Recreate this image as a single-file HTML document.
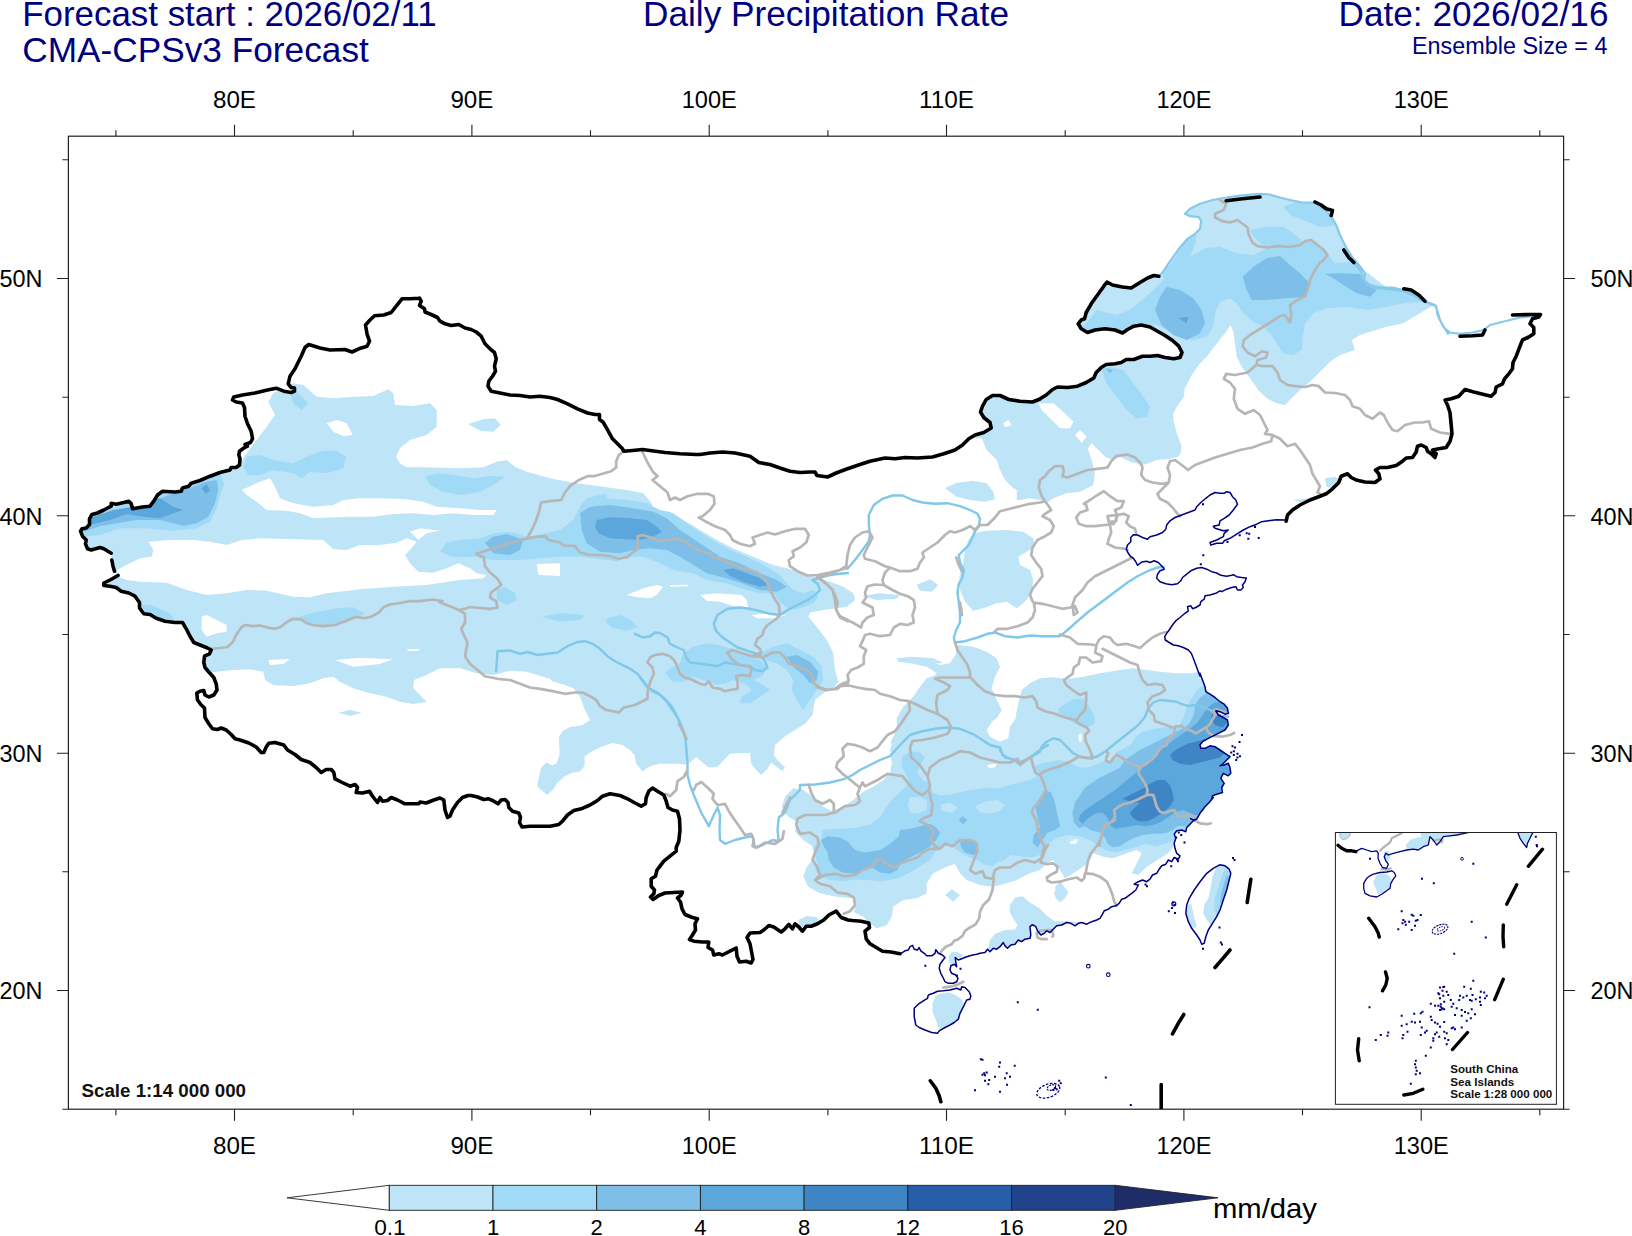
<!DOCTYPE html>
<html><head><meta charset="utf-8"><title>Daily Precipitation Rate</title>
<style>html,body{margin:0;padding:0;background:#fff}svg{display:block}text{font-family:"Liberation Sans",sans-serif}</style></head>
<body>
<svg width="1632" height="1236" viewBox="0 0 1632 1236">
<rect width="1632" height="1236" fill="#fff"/>
<text x="22.2" y="25.8" font-size="35" fill="#00007f" textLength="414.5" lengthAdjust="spacingAndGlyphs">Forecast start : 2026/02/11</text>
<text x="22.3" y="62.3" font-size="35" fill="#00007f" textLength="346.5" lengthAdjust="spacingAndGlyphs">CMA-CPSv3 Forecast</text>
<text x="643" y="25.8" font-size="35" fill="#00007f" textLength="366" lengthAdjust="spacingAndGlyphs">Daily Precipitation Rate</text>
<text x="1338.5" y="25.8" font-size="35" fill="#00007f" textLength="270" lengthAdjust="spacingAndGlyphs">Date: 2026/02/16</text>
<text x="1412" y="53.5" font-size="23" fill="#00007f" textLength="195.5" lengthAdjust="spacingAndGlyphs">Ensemble Size = 4</text>
<defs><clipPath id="mc"><rect x="68.4" y="136.2" width="1495.1999999999998" height="973.0"/></clipPath></defs>
<g clip-path="url(#mc)">
<defs><clipPath id="cn"><path d="M100,547.5 103.8,548.8 111.2,553.2 111.8,560 113,566.2 114.5,571.2 118,575.5 110,580 103.8,583 103.8,585.5 110,586.2 116.2,587.5 121.2,591.2 128.8,593 135,596.2 139.5,602.5 139.5,608 143.8,613.8 150,614.5 156.2,618.2 165,621.2 175,622.5 182.5,622.5 186.2,628.8 190,636.2 193.8,642.5 200,645 207.5,648 211.2,650 209.5,653.8 204.5,656.2 203.8,662.5 205,667.5 208.8,672 213.8,677.5 216.2,683.8 217,690 213.8,695 208.8,697 205,695 203.8,690.5 200,691.2 196.8,693 197.5,700 201.2,705 204.5,708 205,717.5 208.8,723.8 212.5,728.8 217.5,729.5 221.2,728 226.2,730 231.2,734.5 235,738.8 240,740 248.8,743 256.2,747 261.2,752.5 263.8,752.5 266.2,747 268.8,743.2 275,742.5 283.8,745 287.5,750 295,754.5 301.2,759.5 310,762.5 316.2,767.5 321.2,772.5 326.2,769.5 331.2,769.5 333.8,772.5 335,778.8 341.2,782 350,786.2 355,784.5 357.5,787.5 356.2,792.5 362.5,793 369.5,791.2 372.5,796.2 377.5,802.5 380,797.5 382.5,801.2 387.5,800.5 391.2,797.5 397.5,800 405,803.8 412.5,803.8 418.8,803.8 420,802 426.2,803 433.8,800 440,798 443.8,800 445,810 447.5,817.5 450,816.2 452.5,810 457.5,802.5 462.5,797.5 468,795.5 468,795.5 471.2,795.5 477.5,797 483.8,799.5 488.8,798.8 493.8,801.2 498,803.8 501.2,800 505,799.5 508,802.5 508.8,807.5 512.5,811.2 518.8,813 520.5,817.5 519.5,822.5 522,827 530,826.2 540,826.2 550,826.2 558.8,824.5 562.5,821.2 567.5,815 573.8,810.5 581.2,808.8 590,805 597.5,800.5 602.5,796.2 610,793.8 620,795.5 627.5,798.8 635,803 641.2,806.2 645.5,803.8 646.2,797.5 648.8,791.2 652.5,788 657.5,791.2 663.8,795 666.2,801.2 668,807.5 672.5,810 677.5,811.2 679.5,818.8 680,830 678.8,841.2 676.2,847.5 676.2,851.2 670,856.2 663.8,861.2 660,866.2 657,870 655.5,876.2 651.2,878.8 651.2,886.2 654.5,890 653.8,893.8 650.5,897 653,899.5 658.8,895.5 665,893 673.8,892.5 682.5,892 681.2,895 677.5,898 680.5,902 682,908.8 685,914.5 692.5,917.5 697.5,918.8 695,923.8 695.5,930 692.5,935 689.5,939.5 693.8,941.2 702.5,942 708.8,942 708,947.5 712.5,950 713.8,955 718.8,953.8 722.5,955 730,951.2 736.2,948 737,956.2 739.5,962 746.2,961.2 751.2,963 753,959.5 751.2,950 750,943.8 747,937.5 750,933 760,932.5 763.8,930 768.8,925.5 773.8,927 781.2,932 785,928.8 788.8,924.5 792.5,928.8 795,923.8 798.8,927 802.5,931.2 806.2,926.2 811.2,926.2 817.5,923.8 823.8,920 828.8,915 836.2,911.2 841.2,917.5 848,920 848,920 852.5,920.5 861.2,921.2 868.8,923 869.5,927.5 865,931.2 866.2,938.8 870,943.8 876.2,947.5 882.5,951.2 891.2,952 900,953.8 900.8,953.7 905,950.8 908.3,950 910,946.7 912.5,945.3 914.2,949.2 917.5,950 919.2,947.5 920.8,950.8 924.2,953.3 926.7,955.8 931.7,955.8 935,953.3 935.8,949.7 938.3,953.3 942.5,955 945,957.5 942.5,960.8 940,964.2 939.2,968.3 940.8,973.3 943,977.5 945,981.7 948.3,983.3 953.3,983.3 956.7,981.7 958,978.3 955.8,975 951.7,973.3 950,970 950.8,965.8 954.2,964.2 956.7,966.7 955.8,962.5 955.3,957.5 958.3,960 961.7,958.7 966.7,956.7 971.7,955.3 976.7,954.2 980,953.3 985,952.5 987.5,949.2 990,951.7 993.3,948.3 996.7,949.2 1000,946.7 1003.3,942.5 1005,945.8 1007.5,948.3 1010.8,945 1015,944.2 1018.3,940 1021.7,941.7 1025,939.2 1030,938.3 1030.8,935 1030,926.7 1032.5,924.7 1035.8,926.7 1037.5,930.8 1040.8,935 1044.2,933.3 1046.7,930.8 1050,932.5 1054.2,928.3 1056.7,925.8 1061.7,925 1066.7,922.5 1070.8,923.3 1075,925.8 1078.3,923.3 1081.7,922.5 1086.7,924.2 1091.7,921.7 1096.7,920 1100,918.3 1102.5,914.2 1104.2,910.8 1108.3,909.2 1111.7,906.7 1115.8,905.8 1119.2,903.3 1121.7,899.2 1125,898.3 1128.3,895.8 1131.7,893.3 1135.8,890 1138.3,885 1134.2,884.2 1138.3,881.7 1142.5,880 1146.7,881.7 1150,879.2 1152.5,875 1156.7,873.3 1159.2,869.2 1161.7,865.8 1165.8,864.2 1168.3,860 1171.7,861.7 1174.2,857.5 1178.3,859.2 1180,855.8 1176.7,853.3 1175,848.3 1174.2,843.3 1175.8,838.3 1174.2,834.2 1176.7,830.8 1181.7,830 1185.8,831.7 1186.7,827.5 1190,824.2 1193.3,820.8 1195,820 1190,818.3 1193.3,820 1196.7,819.2 1200,813.3 1205,806.7 1209.2,802.5 1213.3,797.5 1211.7,799.2 1212.5,795.8 1216.7,794.2 1222.5,792.5 1221.7,787.5 1224.2,783.3 1220.8,778.3 1223.3,773.3 1228.3,775.8 1230.8,773.3 1230,767.5 1228.3,763.3 1224.2,765 1220,765.8 1222.5,764.2 1226.7,760 1230,756.7 1225,753.3 1220,750 1215,746.7 1210,745.8 1205,748.3 1200.8,748.3 1200,745 1202.5,741.7 1208.3,738.3 1213.3,735.8 1218.3,733.3 1225,730 1228.3,725 1227.5,720 1223.3,717.5 1218.3,715 1215.8,710.8 1220,711.7 1225,714.2 1228.3,713.3 1227.5,708.3 1224.2,704.2 1220,701.7 1215,697.5 1210,694.2 1205.8,691.7 1205,686.7 1202.5,680 1200,673.3 1200,676 1198.3,671.7 1195.8,665 1193.3,658.3 1191.3,653.3 1188.3,650 1183.3,647.5 1178.3,645.8 1173.3,645 1169.2,642.5 1165.3,640 1164.7,636.7 1166.7,633.3 1169.2,630 1172.5,625 1175.8,620.8 1180,617.5 1185,613.3 1188.3,610.8 1187.5,606.7 1190.8,605.8 1192.5,608.7 1195.8,607.5 1200,605 1200.8,601.7 1204.2,599.2 1205,595.8 1210,595 1215.8,593.3 1220,590.8 1221.7,591.7 1226.7,589.2 1231.7,587.5 1235.8,586.7 1237.5,590 1240.8,590 1243.3,587.5 1242.5,585 1245,581.7 1246.3,578 1241.7,577.5 1236.7,576.7 1233.3,574.7 1231.7,575.3 1226.7,576.3 1220.8,575.3 1216.7,573 1211.7,571.7 1206.7,569.2 1201.7,567.5 1196.7,568.3 1190.8,570.8 1186.7,574.2 1182.5,577.5 1180.8,580.8 1177.5,583.7 1171.7,584.7 1165.8,583.7 1160,581.7 1156.7,578.3 1157.5,574.2 1160,570.8 1164.2,569.2 1162.5,566.7 1158.3,562.5 1154.2,560.8 1150,562.5 1146.7,561.3 1141.7,562 1137.5,565.3 1135.8,561.7 1133.3,558.3 1130.8,556.7 1128.3,553.3 1126.3,549.2 1127.5,545 1130.8,541.7 1130.8,537.5 1133.3,534.7 1137.5,535 1142.5,537.5 1147.5,539.2 1150,536.7 1156.7,535 1162.5,532.5 1165.8,529.2 1166.7,525 1170,520.8 1175,517.5 1181.7,515 1188.3,512.5 1195,510 1196.7,506.7 1200.8,502.5 1205.8,498.3 1210,495 1215,492.5 1220,493.3 1224.2,493.3 1226.7,491.7 1230,492.5 1232.5,496.7 1235.8,500 1237.5,504.2 1233.3,510 1229.2,515 1224.2,518.3 1220,520.8 1219.2,525 1213.3,526.3 1215,528.3 1218.3,529.2 1223.3,530.8 1228.3,530 1224.2,533.3 1223.3,536.7 1216.7,540 1210,542.5 1210.8,545 1216.7,543.3 1222.5,543.3 1224.2,540.8 1230,538.3 1236.7,534.2 1243.3,530 1250,526.7 1256.7,524.2 1261.7,521.7 1268.3,520.8 1276.7,519.7 1285,520 1286.2,521.2 1287.5,515 1292.5,510 1300,505 1310,500 1320,496.2 1326.2,493.8 1332.5,488.8 1338.8,482.5 1341.2,476.2 1347.5,473.8 1351.2,477.5 1356.2,480 1365,482 1375,482.5 1380,478.8 1378.8,473.8 1375.5,470 1380,467.5 1387.5,467.5 1396.2,465.5 1402.5,461.2 1406.2,458 1412.5,457.5 1416.2,452 1417.5,446.2 1421.2,445 1426.2,447.5 1427.5,451.2 1431.2,453.8 1435,457.5 1436.2,453.8 1432.5,450 1438.8,448.8 1446.2,447.5 1450,441.2 1452,433.8 1451.2,425 1450,412.5 1447.5,405 1445,400 1451.2,398.8 1458.8,396.2 1465,389.5 1473.8,392 1483.8,394.5 1491.2,396.2 1495,392.5 1496.2,387 1502.5,383.8 1504.5,378.8 1508.8,373.8 1512.5,368.8 1513,362.5 1516.2,356.2 1520,346.2 1522.5,340 1528.8,337 1533.8,333.8 1533.8,327.5 1530,323.8 1532.5,318.8 1538.8,317 1540.5,314.5 1537.5,315.5 1520,317.5 1505,321.2 1490,325 1483.8,330 1472.5,332.5 1460,333.8 1450,332.5 1443.8,327.5 1440,320 1437.5,311.2 1435,305 1425,301.2 1412.5,295 1403.8,291.2 1395,290 1385,288.8 1372.5,287.5 1366.2,283.8 1363.8,277.5 1360,270 1353.8,262.5 1448,333.8 1441.2,322.5 1437.5,315 1436.2,306.2 1425,302 1415,295 1403.8,290 1392.5,287.5 1380,287.5 1370,285 1363.8,280 1365,273.8 1360,266.2 1352.5,257.5 1346.2,247.5 1340,235 1336.2,225 1331.2,216.2 1325,210 1315,202.5 1302.5,202.5 1290,200 1280,197.5 1270,194.5 1260,193.8 1240,195.5 1226.2,197.5 1212.5,200 1200,203.8 1190,208.8 1185,213.8 1190,216.2 1198.8,217 1201.2,221.2 1200,228.8 1195,233.8 1187.5,238.8 1180,247.5 1173.8,256.2 1167.5,265 1162.5,272.5 1158.8,276.2 1158.8,276.2 1153.8,275.5 1147.5,278 1140,282.5 1131.2,288 1122.5,287 1112.5,285 1107,282 1103.8,286.2 1097.5,295 1091.2,303.8 1086.2,312.5 1084.5,318.8 1081.2,320 1078.2,323.8 1081.2,328.8 1087.5,332.5 1095,330 1105,328.8 1115,330 1122.5,333 1127.5,329.5 1133.8,326.2 1141.2,325 1150,327 1157.5,331.2 1165,335.5 1172.5,340.5 1178.8,346.2 1182,352.5 1180,357.5 1173.8,358.8 1165,357.5 1157.5,355.5 1150,356.2 1142.5,356.2 1133.8,359.5 1126.2,359.5 1121.2,362.5 1115,363.8 1106.2,364.5 1101.2,367.5 1096.2,372.5 1093.8,378 1086.2,382.5 1077.5,386.2 1067.5,387.5 1057.5,387 1052.5,389.5 1046.2,395 1040,398.8 1040,399 1032.5,402 1020,401.2 1008.8,399.5 1000,395.5 992.5,395.5 986.2,399.5 982.5,406.2 980.5,412 983.8,417.5 990,422.5 991.2,428 983.8,432.5 975,435 968.8,438.8 962.5,445 955,450 943.8,453.8 932.5,457 917.5,458 905,457.5 895,458.8 885,458 870,461.2 860,464.5 847.5,468.8 836.2,473 827.5,477 817,475.5 815,472 810,472 800,472.5 790,471.2 780,468 770,464.5 758.8,462.5 750,456.2 735,453 722.5,452 710,453 700,454.5 696.2,454.5 680,453.8 665,452.5 650,450.5 642.5,449.5 632.5,450.5 623.8,451.2 622.5,448.8 618.8,445 612.5,438.8 607,428.8 603,422 599.5,419.5 599.5,414.5 595,414.5 587.5,413 577.5,408.8 567.5,403.8 557.5,399.5 550,397.5 540,396.2 530,397 520,395.5 510,395 500,393 491.2,391.2 488,386.2 488.8,381.2 492.5,376.2 495.5,371.2 494.5,366.2 496.2,358.8 494.5,352.5 490,348.8 485,343.8 481.2,336.2 476.2,332 471.2,329.5 465,328 458.8,324.5 451.2,325.5 445,323.8 440,321.2 437.5,317.5 431.2,314.5 425,312 424.5,308.8 419.5,305.5 421.2,301.2 419.5,298 418.8,298.2 410,298.8 402,298.8 396.2,306.2 391.2,312.5 383.8,315 374.5,315.8 370,320 365.5,325 367,333.8 369.5,341.2 367,346.2 358.8,348.8 352,352 345,349.5 330,350 320,348 308.8,344.5 305,347.5 301.2,356.2 295,368.8 290,376.2 288.2,383.8 291.2,387.5 294.5,388 294.5,391.2 291.2,392.5 283.8,391.2 276.2,388.2 267.5,390 255,393 242.5,395 233.8,397 232.5,400 236.2,402 242.5,403 244.5,407.5 245,416.2 247.5,423.8 251.2,431.2 252.5,438.8 250.5,442.5 245,444.5 247.5,446.2 243.8,448 239.5,451.2 238.8,455 240,458.8 239.5,465 236.2,467.5 231.2,467.5 230,470 220,472.5 210,476.2 200,480.5 191.2,483.2 188.8,486.2 182.5,488 181.2,491.2 175,492 162.5,491.2 157.5,495 153.8,501.2 150,506.2 142.5,507 132.5,508.8 131.2,503.8 128.8,501.2 123.8,502.5 116.2,504.2 111.2,503.2 111.2,506.2 103.8,510 97.5,513 92,514.5 89.5,518.8 89.5,524.5 86.2,528 82,528.8 80.5,531.2 82.5,536.2 86.2,540 85.5,543.8 87.5,548.8 91.2,550 100,547.5Z M928.3,995 933.3,993.3 937.5,991.3 943.3,990.8 950,990 956.7,988.3 960.8,990 961.7,986.7 965,987.5 969.2,991.7 970.8,995.8 970,999.2 966.7,1000 965,1003.3 962.5,1008.3 960,1013.3 958.3,1019.2 954.2,1022.5 950,1025 945,1027.5 939.2,1030.8 937.5,1033.3 931.7,1032.5 925,1030 919.2,1027.5 915.8,1025 914.2,1016.7 914.2,1008.3 918.3,1004.2 923.3,1000.8 927.5,998.3 928.3,995Z M1220,864.7 1225,865.8 1229.2,869.2 1230.8,873.3 1229.2,880 1226.7,890 1223.3,900 1220,910 1216.7,916.7 1212.5,923.3 1208.3,930 1205.8,936.7 1204.2,943.3 1201.7,944.2 1200,940 1196.7,935 1191.7,928.3 1188.3,921.7 1185.8,913.3 1186.7,905 1189.2,898.3 1194.2,890 1200,881.7 1206.7,873.3 1213.3,868.3 1220,864.7Z"/></clipPath></defs>
<g clip-path="url(#cn)">
<path d="M468.3,424 483.3,419.3 495,418.3 500.7,425 493.3,431.7 480,430.7Z M338.3,712.7 350,710 361.7,712.7 350,716Z M293.3,383.3 303.3,385 316.7,396.7 333.3,398.3 353.3,396.7 373.3,396 388.3,389.3 393.3,393.3 395,405 413.3,406 430,403.3 436.7,410 436.7,426.7 426.7,435 410,440 400,448.3 396,456.7 400,463.3 406.7,467.3 426.7,467.3 460,468.3 483.3,467.3 496.7,461.7 506.7,460 515,466.7 526.7,471.7 550,478.3 573.3,482.7 606.7,487.3 606.7,740 603.3,745 593.3,750 584.3,755.7 584.3,765 578.3,771.7 568.3,773.3 540,773.3 546.7,768.3 556.7,763.3 560,753.3 560,740 566.7,731.7 580,726.7 590,720 585,710 580,696.7 573.3,688.3 560,681.7 543.3,676.7 526.7,671.7 510,670.7 493.3,675 476.7,673.3 460,668.3 440,668.3 426.7,675 414,680 413.3,688.3 420,695 426.7,701.7 413.3,704 400,701.7 386.7,696.7 370,693.3 353.3,688.3 340,681.7 333.3,676.7 323.3,678.3 310,683.3 293.3,686 273.3,685 265,680 263.3,671.7 250,669.3 233.3,670 216.7,671.7 206.7,673.3 193.3,660 160,626.7 93.3,593.3 60,560 60,510 143.3,493.3 226.7,470 240,463.3 246.7,453.3 256.7,440 266.7,426.7 275,415 268.3,401.7 273.3,393.3Z M556.7,483.3 580,486 606.7,487.3 626.7,490 643.3,493.3 651.7,503.3 653.3,510 670,511.7 683.3,520 700,530 716.7,540 736.7,550 756.7,558.3 773.3,565 793.3,570 813.3,576.7 830,581.7 843.3,586.7 853.3,593.3 855,600 846.7,606.7 836.7,608.3 823.3,610 810,612.7 808.3,616.7 816.7,626.7 826.7,640 833.3,653.3 835,670 838.3,681.7 833.3,688.3 823.3,693.3 815,700 812.5,715 805,723.8 795,730 785,736.2 775,745 773.8,755 777.5,760 785,767.5 782.5,771.2 777.5,767.5 771.2,762.5 767.5,768.8 761.2,775 756.2,770 751.2,763.8 750,753 740,753 730,753.8 723.8,760 717.5,767 708.8,767.5 702.5,762.5 696.2,757 690,762.5 686.2,764.5 675,763.8 660,763.8 650,766.2 642.5,771.2 636.2,763.8 634.5,755 630,750 622.5,745 612.5,743 602.5,746.2 592.5,751.2 584.5,756.2 584.5,766.2 580,771.2 572.5,772.5 565,776.2 557.5,782.5 553.8,788.8 547.5,795 542.5,791.2 537,786.2 538.8,777.5 541.2,767.5 546.2,762.5 551.2,765 557.5,767.5 559.5,760 559.5,750 558.8,737.5 562.5,731.2 570,727 585,725 595,723.8 592.5,717.5 587.5,711.2 585,702.5 581.2,693.8 575,688.8 565,685 552.5,681.2 545,675Z M1433.3,305 1420,313.3 1403.3,323.3 1386.7,326.7 1370,331.7 1360,335 1351.7,340 1355,350 1340,355 1330,361.7 1320,371.7 1310,381.7 1300,390 1291.7,398.3 1285,405 1276.7,403.3 1266.7,398.3 1258.3,390 1250,378.3 1241.7,366.7 1236.7,356.7 1235,343.3 1233.3,331.7 1230.7,325 1225,333.3 1216.7,343.3 1206.7,356.7 1193.3,370 1185,383.3 1184,396.7 1176.7,406.7 1171.7,416.7 1173.3,430 1176.7,440 1181.7,446.7 1178.3,456.7 1166.7,459.3 1153.3,460 1143.3,465 1133.3,460 1120,456.7 1113.3,460 1105,456.7 1091.7,443.3 1086.7,450 1091.7,460 1095,473.3 1093.3,485 1080,491.7 1066.7,493.3 1053.3,498.3 1046.7,503.3 1040,500 1030,498.3 1020,500 1016.7,500 1016.7,370 1053.3,270 1153.3,170 1353.3,170 1453.3,270Z M1325,478.3 1335,476.7 1340,480 1331.7,488.3 1326.7,486.7Z M1293.3,500 1310,498.3 1303.3,503.3Z M966.7,438.3 966.7,396.7 1066.7,326.7 1225,326.7 1225,330 1218.3,341.7 1210,351.7 1200,363.3 1191.7,375 1186.7,385 1180,396.7 1173.3,408.3 1173.3,420 1176.7,433.3 1181.7,446.7 1180,455 1166.7,456.7 1156.7,460 1143.3,465 1130,461.7 1116.7,455 1103.3,448.3 1093.3,441.7 1086.7,445 1090,455 1093.3,466.7 1091.7,480 1083.3,488.3 1066.7,493.3 1053.3,496.7 1040,498.3 1026.7,495 1013.3,488.3 1005,480 1000,470 996.7,460 986.7,450 981.7,438.3Z M945,488.3 956.7,482.7 973.3,480.7 986.7,483.3 993.3,491.7 995,499.3 985,501.7 970,500 956.7,496.7Z M973.3,533.3 986.7,530.7 1006.7,530 1023.3,531.7 1033.3,538.3 1035,546.7 1026.7,551.7 1018.3,556.7 1020,565 1030,570 1033.3,580 1031.7,593.3 1023.3,603.3 1016.7,608.3 1006.7,601.7 996.7,603.3 983.3,608.3 973.3,610.7 965,601.7 960,590 959.3,576.7 963.3,563.3 965,550 968.3,540Z M916.7,585 930,579.3 938.3,585 931.7,591.7 920,590.7Z M861.7,596 880,593.3 900,595 896.7,598.7 876.7,600Z M895,658.3 913.3,656.7 933.3,658.3 943.3,663.3 926.7,663.3 906.7,662.7Z M956.7,645 973.3,646.7 986.7,651.7 996.7,658.3 1000,666.7 995,676.7 991.7,688.3 996.7,700 1001.7,710 996.7,718.3 986.7,725 980,733.3 976.7,743.3 890,743.3 896.7,730 896.7,718.3 903.3,706.7 913.3,696.7 920,686.7 926.7,678.3 936.7,675 946.7,666.7 955,658.3Z M1013.3,743.3 1015,723.3 1016.7,710 1021.7,693.3 1030,683.3 1040,678.3 1053.3,677.3 1066.7,679.3 1083.3,676.7 1100,673.3 1120,670 1133.3,668.3 1146.7,670 1160,671.7 1176.7,673.3 1193.3,673.3 1198.3,671.7 1233.3,671.7 1233.3,743.3Z M793.3,788.3 803.3,790 813.3,796.7 823.3,806.7 833.3,811.7 843.3,806.7 853.3,800 863.3,791.7 873.3,786.7 883.3,780 890,773.3 891.7,763.3 890,750 893.3,740 898.3,735 896.7,723.3 900,711.7 910,701.7 916.7,693.3 926.7,683.3 936.7,673.3 926.7,666.7 910,663.3 898.3,661.7 896.7,658.3 910,656.7 926.7,660 940,665 950,663.3 956.7,653.3 963.3,646.7 973.3,648.3 983.3,651.7 993.3,656.7 998.3,668.3 993.3,680 986.7,690 993.3,700 1000,711.7 993.3,720 986.7,730 990,736.7 1000,741.7 1008.3,738.3 1010,726.7 1016.7,716.7 1018.3,703.3 1021.7,690 1030,683.3 1043.3,679.3 1060,678.3 1076.7,679.3 1093.3,676.7 1110,673.3 1126.7,670.7 1143.3,670 1160,671.7 1176.7,673.3 1196.7,673.3 1260,673.3 1260,853.3 1173.3,846.7 1168.3,853.3 1160,858.3 1146.7,866.7 1138.3,875 1131.7,873.3 1136.7,863.3 1141.7,853.3 1136.7,850 1126.7,853.3 1113.3,858.3 1103.3,856.7 1093.3,853.3 1090,860 1083.3,866.7 1073.3,873.3 1065,878.3 1060,870 1053.3,860 1046.7,863.3 1040,870 1030,873.3 1016.7,880 1006.7,883.3 993.3,886.7 980,885 966.7,880 960,873.3 955,864 946.7,866.7 933.3,873.3 926.7,883.3 926.7,893.3 916.7,898.3 903.3,900 893.3,906.7 891.7,916.7 886.7,925 876.7,928.3 870,923.3 863.3,916.7 853.3,911.7 856.7,903.3 853.3,898.3 836.7,896.7 820,893.3 808.3,886.7 803.3,876.7 806.7,866.7 815,856.7 813.3,846.7 803.3,840 795,831.7 796.7,821.7 788.3,816.7 781.7,806.7 785,796.7Z M798.3,920 806.7,916 816.7,917.3 821.7,923.3 810,927.3 800,926.7Z M945,895 951.7,889.3 960,895 953.3,901.7Z M1055,886.7 1060,881.7 1068.3,891.7 1061.7,900 1056.7,896.7Z M1010,905 1015,897.5 1022.5,896.2 1030,902.5 1040,908.8 1047.5,916.2 1055,921.2 1067.5,921.2 1080,923 1075,927.5 1055,930 1042.5,937.5 1030,945 1017.5,950 1005,952.5 992.5,955 987.5,950 990,940 995,933.8 1005,930 1015,929.5 1017.5,925 1012.5,917.5 1009.5,911.2Z M1220,863.3 1230,866.7 1231.7,873.3 1226.7,890 1222.5,903.3 1216.7,916.7 1210.8,925 1206.7,920 1203.3,913.3 1204.2,905 1208.3,898.3 1210.8,886.7 1212.5,876.7 1215,870Z M1185.8,906.7 1190.8,903.3 1192.5,910 1194.2,918.3 1196.7,925 1195,928.3 1190.8,926.7 1187.5,918.3 1185,911.7Z M1054.2,893.3 1056.7,886.7 1060,884.2 1063.3,888.3 1067.5,893.3 1065,898.3 1060,902.5 1055.8,898.3Z M935.8,995.8 941.7,993.3 950,992.5 956.7,995.8 962.5,1000 963.3,1003.3 960.8,1010 958.3,1018.3 953.3,1022.5 946.7,1025.8 939.2,1029.2 935.8,1020 932.5,1011.7 932.5,1003.3Z M949.2,955 952.5,951.7 958.3,952.5 963.3,955 960.8,958.3 955.8,957.5 955,962.5 950.8,965 948.7,960.8Z" fill="#bde4f7"/>
<path d="M326.7,423.3 336.7,420 346.7,423.3 352.7,435 343.3,436 333.3,431.7Z M241.7,490 260,481.7 270,478.3 275,486.7 280,498.3 293.3,503.3 313.3,506.7 333.3,505 343.3,500 360,498.3 380,498.3 406.7,499.3 423.3,501.7 436.7,506.7 460,508.3 480,510 496.7,510 493.3,515 473.3,515 453.3,513.3 433.3,515 413.3,513.3 393.3,514 373.3,516.7 353.3,516.7 333.3,517.3 313.3,518.3 300,513.3 286.7,510.7 266.7,510 256.7,501.7 246.7,495Z M148.3,541.7 170,540 193.3,540 210,541.7 226.7,545 241.7,540 260,538.3 293.3,539.3 323.3,540 333.3,549.3 346.7,550 360,545 380,545 396.7,542.7 406.7,538.3 416.7,541.7 410,550 405,555 410,563.3 418.3,571.7 433.3,572.7 446.7,568.3 458.3,563.3 470,568.3 476.7,573.3 486.7,575 483.3,578.3 460,580 426.7,585 393.3,586.7 360,589.3 326.7,593.3 310,597.3 293.3,596.7 266.7,590.7 246.7,590 226.7,593.3 206.7,595 186.7,590 166.7,582.7 140,581.7 126.7,580 118.3,576.7 116.7,570 130,563.3 140,558.3 151.7,556.7 153.3,550Z M410,531.7 420,528.3 440,530.7 426.7,533.3 418.3,540 413.3,535Z M201.7,616.7 206.7,615 226.7,625 226.7,631.7 216.7,633.3 206.7,636.7 201.7,630Z M268.3,660 290,659 283.3,664 270,665Z M335,660 360,657.7 393.3,659.3 380,664 353.3,666.7Z M406.7,649.3 420,648.7 418.3,651 408.3,651Z M536.7,564 560,563.3 560,576 538.3,575Z M626.7,595 643.3,588.3 656.7,585 663.3,586.7 656.7,595 650,598.3 636.7,597.3Z M670,585 688.3,584.7 688.3,586.3 670,586.7Z M700,595 716.7,593.3 741.7,595 746.7,600 748.3,607.3 733.3,606 720,601.7 706.7,600.7Z M751.7,615 766.7,613.3 786.7,615 773.3,618.3 756.7,618.3Z M1038.3,403.3 1053.3,403.3 1063.3,411.7 1073.3,421.7 1070,428.3 1060,428.3 1050,418.3 1041.7,410Z M1075,435 1080,430 1086.7,436.7 1081.7,442.7Z M1003.3,423.3 1008.3,420 1011.7,425 1005,427.3Z M1066.7,840 1078.3,839.3 1076.7,843.3 1068.3,844Z M988.3,765 996.7,764 995,767.3 989.3,768Z M1078.3,735 1081.7,733.3 1081.7,741.7 1079.3,741.7Z" fill="#ffffff"/>
<path d="M80,520 126.7,503.3 160,493.3 200,476.7 220,473.3 224,484 220,495 216.7,508.3 210,521.7 196.7,528.3 173.3,530.7 146.7,528.3 120,528.3 100,535 80,536.7Z M246.7,456.7 260,455 273.3,460 293.3,463.3 306.7,456.7 323.3,450.7 336.7,450.7 346,456.7 343.3,468.3 326.7,473.3 310,471.7 301.7,478.3 293.3,473.3 273.3,470 260,475 248.3,475 243.3,466.7Z M290,393.3 296.7,391.7 308.3,403.3 301.7,410 293.3,403.3Z M425,476.7 436.7,473.3 453.3,475 473.3,478.3 490,476 505,476.7 493.3,485 480,491.7 460,495 443.3,491.7 430,485Z M293.3,618.3 313.3,612.7 336.7,608.3 353.3,607.3 365,613.3 353.3,620 336.7,625 320,626.7 306.7,623.3Z M140,605 150,605 170,613.3 175,620 160,618.3 145,611.7Z M440,551.7 446.7,542.7 460,540 480,538.3 493.3,533.3 510,531.7 526.7,536.7 546.7,533.3 560,530 573.3,520 580,506.7 586.7,498.3 606.7,493.3 606.7,560 580,556.7 560,556.7 540,558.3 520,560 493.3,560 473.3,556.7 453.3,557.3Z M496.7,590 505,586.7 515,593.3 516.7,600 506.7,605 496.7,600Z M541.7,616.7 560,613.3 583.3,615 580,620 560,621.7Z M578.7,520 578.7,510 582.3,502.3 590,498.7 606.7,498.3 626.7,500 646.7,503.3 660,510 673.3,513.3 686.7,523.3 706.7,536.7 726.7,548.3 746.7,556.7 766.7,566.7 780,575 786.7,583.3 793.3,590 803.3,593.3 813.3,590 818.3,596.7 813.3,603.3 800,608.3 790,610 780,601.7 773.3,593.3 760,593.3 746.7,590 726.7,583.3 706.7,580 693.3,573.3 673.3,570 660,563.3 643.3,556.7 626.7,556.7 616.7,561.7 603.3,558.3 593.3,555 580,546.7Z M606.7,618.3 620,615 630,620 638.3,626.7 626.7,630.7 613.3,628.3 606.7,623.3Z M560,614 573.3,615 585,617.3 570,620.7 560,620Z M683.3,653.3 693.3,646.7 706.7,643.3 720,645 733.3,650 746.7,655 760,660 766.7,666.7 763.3,675 753.3,680 763.3,685 770,690 760,696.7 750,703.3 740,703.3 741.7,696.7 751.7,690 746.7,685 733.3,680 726.7,683.3 716.7,685 703.3,680 693.3,676.7 683.3,681.7 673.3,681.7 665,673.3 670,668.3 680,663.3Z M760,653.3 773.3,646.7 786.7,643.3 800,650 813.3,656.7 821.7,666.7 823.3,680 816.7,690 810,700 803.3,710 796.7,700 791.7,690 793.3,680 786.7,670 776.7,663.3 766.7,660Z M1163.3,270 1176.7,260 1193.3,255 1205,248.3 1220,246.7 1236.7,253.3 1253.3,255 1266.7,248.3 1253.3,236.7 1250,230 1266.7,226.7 1283.3,226.7 1293.3,233.3 1303.3,241.7 1313.3,241.7 1326.7,253.3 1335,263.3 1350,261.7 1356.7,266.7 1366.7,283.3 1403.3,290 1425,301.7 1403.3,303.3 1386.7,306.7 1366.7,310 1346.7,306.7 1326.7,308.3 1313.3,313.3 1305,323.3 1302.7,336.7 1301.7,350 1293.3,355 1283.3,353.3 1276.7,343.3 1270,333.3 1263.3,326.7 1253.3,321.7 1243.3,313.3 1236.7,303.3 1230,298.3 1220,301.7 1215,313.3 1213.3,326.7 1206.7,336.7 1193.3,340 1180,336.7 1166.7,330 1156.7,325 1136.7,323.3 1120,330 1103.3,336.7 1080,330 1091.7,316.7 1096.7,310 1116.7,315 1130,310 1140,301.7 1153.3,290 1163.3,280Z M1283.3,206.7 1296.7,201.7 1313.3,196.7 1340,213.3 1340,225 1320,226.7 1303.3,220 1290,215Z M1171.7,263.3 1180,250 1190,233.3 1196.7,233.3 1195,245 1190,256.7 1180,263.3Z M1101.7,370 1110,366.7 1123.3,370 1133.3,383.3 1143.3,396.7 1150,406.7 1146.7,416.7 1136.7,418.3 1126.7,410 1116.7,396.7 1106.7,383.3Z M1063.3,706.7 1076.7,700 1086.7,703.3 1093.3,713.3 1095,723.3 1086.7,728.3 1073.3,723.3 1063.3,715Z M812.5,847.5 821.2,840 822.5,830 837.5,828.8 855,828 870,824.5 880,817.5 886.2,807.5 892.5,798.8 900,792.5 906.2,786.2 908.8,780 905,772.5 901.2,765 902.5,756.2 910,751.2 920,752.5 925,757.5 920,765 917.5,772.5 922.5,780 930,783.8 932.5,792.5 940,795.5 950,794.5 960,792.5 970,790 980,788.8 990,787.5 997.5,788.8 1003.2,786.8 1016.8,783.2 1030,780 1040,774.5 1033.2,766.8 1041.8,763.2 1050,762 1057.5,760 1067.5,761.8 1073.2,764.2 1080,767.5 1088.2,767.5 1096.8,764.2 1103.2,761.8 1110,760.8 1121.8,756.8 1128.2,750.8 1137.5,743.2 1150,733.2 1155,730 1190,730 1190,835 1175,840 1165,843.8 1155,846.2 1145,843.8 1135,847.5 1125,850 1115,852.5 1105,850 1097.5,845 1090,840 1080,836.2 1067.5,835 1057.5,837.5 1050,842.5 1042.5,848.8 1040,855 1030,857.5 1020,856.2 1010,855 1005,860 997.5,862.5 992.5,866.2 985,865 977.5,860 970,857.5 962.5,853.8 955,848.8 950,843.8 942.5,846.2 935,852.5 930,860 920,866.2 910,872.5 900,877.5 890,880 880,881.2 867.5,880 855,879.5 842.5,881.2 830,880 820,876.2 815,870 817.5,862.5 815,855Z M1260,685 1260,815 1185,815 1135,790 1115,753 1125,748 1132.5,743 1135,737 1142.5,732 1152.5,729.2 1162.5,727.5 1172.5,727.5 1178.8,725.5 1183.8,717.5 1186.2,707.5 1191.2,698.8 1196.2,691.2 1203.8,685Z M1057.5,710 1065,703.8 1075,698.8 1083.8,698.8 1086.2,705 1092.5,712.5 1095,720 1087.5,725 1080,722.5 1077.5,715 1067.5,715 1060,713.8Z M1225,868.3 1229.2,871.7 1230,880 1225.8,893.3 1221.7,906.7 1216.7,915 1214.2,910 1215,898.3 1218.3,886.7 1221.7,876.7Z" fill="#a1daf6"/>
<path d="M940,805 950,802.5 957.5,807.5 952.5,812.5 942.5,811.2Z M975,806.2 985,801.2 997.5,800 1005,805 1000,811.2 990,813.8 980,812.5Z M907.5,805 910,797.5 920,796.2 927.5,801.2 926.2,810 917.5,813.8 910,812.5Z M1052.5,847.5 1060,841.2 1070,840 1080,841.2 1087.5,843.8 1080,847.5 1067.5,850 1057.5,851.2Z" fill="#bde4f7"/>
<path d="M1070,841.2 1077.5,840.5 1076.2,843.8 1070.5,844Z M987.5,765 996.2,763.8 995.5,767 988,767.5Z" fill="#ffffff"/>
<path d="M80,533.3 91.7,520 110,511.7 133.3,508.3 156.7,500 173.3,493.3 193.3,486.7 206.7,481.7 216.7,480 218.3,490 215,503.3 208.3,516.7 196.7,523.3 183.3,525.7 160,520 136.7,520 116.7,523.3 100,526Z M485,542.7 493.3,536.7 506.7,534 523.3,540 520,550 510,555 493.3,553.3Z M580,513.3 590,506.7 610,505 633.3,508.3 653.3,511.7 666.7,518.3 680,530 700,543.3 720,556.7 740,563.3 760,573.3 776.7,580 786.7,586.7 776.7,591.7 760,590 746.7,585 726.7,578.3 706.7,573.3 693.3,565 680,556.7 666.7,550 650,548.3 633.3,550 620,553.3 600,551.7 586.7,543.3 581.7,530Z M786.7,656.7 796.7,655 810,661.7 818.3,671.7 816.7,680 810,683.3 803.3,675 793.3,666.7Z M1155,310 1160,296.7 1166.7,286.7 1180,290 1193.3,298.3 1201.7,310 1205,323.3 1200,333.3 1186.7,340 1173.3,335 1161.7,325Z M1242.7,276.7 1253.3,266.7 1266.7,258.3 1280,256 1290,265 1300,273.3 1308.3,281.7 1310,286.7 1305,296.7 1286.7,298.3 1266.7,300 1251.7,300 1246.7,290Z M1325,274 1340,273.3 1360,274 1365,283.3 1376.7,290 1370,296.7 1356.7,293.3 1343.3,285 1333.3,278.3Z M1105,368.3 1113.3,370 1110,373.3Z M821.2,840 827.5,836.2 840,837.5 847.5,841.2 855,850 865,852.5 880,850 890,843.8 898.8,836.2 900,830 910,828.8 920,826.2 930,823.8 936.2,827.5 940,832.5 936.2,840 930,846.2 920,852.5 910,857.5 900,863.8 897.5,870 890,873.8 880,872.5 872.5,867.5 865,870 855,873.8 842.5,872.5 833.8,867.5 828.8,860 827.5,852.5 823.8,846.2Z M960,842.5 965,838.8 972.5,840 977.5,846.2 978.8,852.5 972.5,855 965,852.5 961.2,847.5Z M958.8,820 962.5,816.2 967,820 963,824.5Z M1035,805 1040,797.5 1045,790 1051.2,792.5 1055,802.5 1057.5,815 1060,826.2 1055,830 1047.5,832.5 1042.5,840 1037.5,847.5 1032.5,842.5 1033.8,835 1040,827.5 1037.5,817.5Z M1235,692.5 1235,826.2 1177.5,826.2 1172.5,830 1167.5,832.5 1160,833.8 1152.5,833.8 1142.5,835 1135,837.5 1127.5,841.2 1120,846.2 1112.5,847.5 1107.5,843.8 1105,837.5 1100,832.5 1090,830 1085,826.2 1078.8,828 1073.8,822.5 1072.5,812.5 1075,802.5 1080,795 1085,787.5 1092.5,782.5 1100,777.5 1110,772.5 1120,767.5 1125,760 1132.5,755 1140,750 1150,745 1160,740 1170,735 1177.5,731.2 1185,727.5 1190,722.5 1193.8,715 1195,705 1200,697.5 1207.5,692.5Z M1226.7,875 1230,878.3 1227.5,890 1223.3,900 1220,903.3 1220.8,895 1224.2,883.3Z" fill="#7dbfe9"/>
<path d="M80,526.7 93.3,516.7 113.3,510 133.3,506.7 153.3,500 160,498.3 173.3,506.7 183.3,510 173.3,513.3 160,518.3 143.3,516.7 126.7,514 110,520 96.7,523.3Z M201.7,488.3 206.7,484 210,490 206,494Z M596.7,520 610,517.3 630,518.3 646.7,520 656.7,526.7 661.7,531.7 653.3,536.7 640,540 626.7,539.3 610,538.3 598.3,533.3 595,526.7Z M723.3,570 733.3,568.3 746.7,573.3 760,578.3 770,585 760,586.7 743.3,581.7 730,576Z M1178.3,318.3 1188.3,316.7 1186.7,323.3Z M1235,702.5 1235,812.5 1195,815 1190,812.5 1182.5,810 1175,812.5 1167.5,817.5 1160,822.5 1152.5,825 1145,826.2 1137.5,825 1130,826.2 1122.5,827.5 1115,828.8 1110,825 1107.5,817.5 1102.5,812.5 1095,813.8 1087.5,818.8 1082.5,823.8 1078.8,820 1080,815 1085,810 1092.5,805 1100,800 1107.5,795 1115,790 1122.5,783.8 1130,777.5 1137.5,771.2 1145,765 1152.5,757.5 1160,751.2 1167.5,745 1175,738.8 1182.5,733.8 1190,728.8 1197.5,722.5 1202.5,715 1207.5,707.5 1215,702.5Z" fill="#5ba6da"/>
<path d="M1170,755 1177.5,748.8 1187.5,743.8 1197.5,741.2 1206.2,738.8 1212.5,742.5 1220,747.5 1225,752.5 1220,757.5 1210,760 1200,762.5 1190,765 1180,763.8 1172.5,760Z M1122.5,798.8 1132.5,793.8 1142.5,788.8 1150,783.8 1157.5,780 1165,780 1170,785 1172.5,792.5 1173.8,800 1170,806.2 1162.5,812.5 1155,817.5 1147.5,821.2 1138.8,821.2 1132.5,817.5 1130,812.5 1135,807.5 1140,802.5 1132.5,802.5Z M1212.5,712.5 1220,710 1226.2,715 1227.5,722.5 1222.5,727.5 1215,725 1211.2,718.8Z" fill="#3f84c4"/>
</g>
<path d="M496.2,671.2 497.5,651.2 510,650.5 520,653.8 527.5,652 537.5,655 547.5,653.8 557.5,652.5 567.5,646.2 577.5,642 585,641.2 592.5,643.8 600,648.8 607.5,656.2 615,661.2 622.5,665 630,668.8 637.5,673.8 642.5,680 646.2,685 652.5,691.2 660,695 667.5,702.5 672.5,710 677.5,717.5 681.2,725 683.8,732.5 686.2,739 M635,633.8 642.5,637.5 650,636.2 655,632.5 660,633 667.5,637.5 670,643.8 677.5,647.5 683.8,650 686.2,657.5 690,662.5 700,663.8 710,665 717.5,666.2 725,662.5 732.5,663.8 740,665 750,666.2 755,670 762.5,671.2 767.5,667.5 765,661.2 760,655 752.5,652.5 745,650 737.5,647.5 730,642.5 722.5,637.5 716.2,631.2 713.8,623.8 717.5,615 727.5,608.8 740,607.5 750,608.8 760,611.2 770,613.8 780,615 787.5,610 797.5,605 807.5,600 815,595 820,590 817.5,583.8 812.5,580 820,577.5 830,575 840,573.8 848,573 M640,677.5 647.5,687.5 657.5,692.5 665,698.8 672.5,707.5 677.5,717.5 681.2,726.2 685,735 686.2,747.5 687.5,762.5 687.5,775 690,785 693.8,795 701.2,812.5 708.8,826.2 713.8,815 717.5,807.5 720,815 719.5,830 720,840 725,843.8 735,840 745,837.5 752.5,836.2 755,847.5 762.5,845 772.5,840 778.8,841.2 777.5,830 778.8,817.5 785,812.5 790,800 800,790 800,785 815,784.5 830,782.5 845,778.8 852.5,775 860,770 870,765 880,760 890,756.2 900,745 910,735 922.5,731.2 935,728.8 947.5,727.5 960,728.8 972.5,733.8 982.5,740 990,745 1000,747.5 1002.5,755 1012.5,760 1022.5,762.5 1030,757.5 1040,750 1048,745 M847.5,568.8 855,560 862.5,550 868.8,541.2 870,535 868.8,525 868.8,515 873.8,505 882.5,498.8 892.5,495.5 902.5,495.5 912.5,500 922.5,502.5 935,503.8 947.5,503.2 960,506.2 970,510 977.5,513.8 980,518.8 978.8,526.2 975,531.2 972.5,537.5 968.8,545 963.8,550 958.8,555 960,562.5 963.8,570 962.5,577.5 958.8,583.8 957.5,592.5 958.8,602.5 960,612.5 960,622.5 956.2,630 953.8,637.5 955,642.5 965,641.2 977.5,637.5 987.5,633.8 995,632.5 1005,636.2 1017.5,637.5 1030,635.5 1042.5,636.2 1060,636.2 1067.5,630 1077.5,621.2 1087.5,612.5 1097.5,605 1107.5,597.5 1117.5,590 1127.5,582.5 1137.5,576.2 1147.5,571.2 1157.5,567.5 1163.8,567 M1000,750 1005,757.5 1013.3,759.2 1018.3,763.3 1025,760 1031.7,756.7 1040,751.7 1041.7,746.7 1046.7,741.7 1053.3,738.3 1060,740 1066.7,746.7 1073.3,753.3 1080,756.7 1088.3,758.3 1096.7,756.7 1105,751.7 1113.3,745 1121.7,738.3 1130,731.7 1138.3,725 1145,716.7 1148.3,708.3 1153.3,702.5 1160,700 1168.3,700.8 1176.7,701.7 1181.7,704.2 1188.3,705.8 1196.7,705 1203.3,706.7 1210,710 1215,713.3 1221.7,715.8 1228.3,716.7" fill="none" stroke="#7fc8e9" stroke-width="2.4" stroke-linejoin="round" stroke-linecap="round"/>
<path d="M1353.8,262.5 1360,270 1363.8,277.5 1366.2,283.8 1372.5,287.5 1385,288.8 1395,290 1403.8,291.2 1412.5,295 1425,301.2 1435,305 1437.5,311.2 1440,320 1443.8,327.5 1450,332.5 1460,333.8 1472.5,332.5 1483.8,330 1490,325 1505,321.2 1520,317.5 1537.5,315.5 M1158.8,276.2 1162.5,272.5 1167.5,265 1173.8,256.2 1180,247.5 1187.5,238.8 1195,233.8 1200,228.8 1201.2,221.2 1198.8,217 1190,216.2 1185,213.8 1190,208.8 1200,203.8 1212.5,200 1226.2,197.5 1240,195.5 1260,193.8 1270,194.5 1280,197.5 1290,200 1302.5,202.5 1315,202.5 1325,210 1331.2,216.2 1336.2,225 1340,235 1346.2,247.5 1352.5,257.5 1360,266.2 1365,273.8 1363.8,280 1370,285 1380,287.5 1392.5,287.5 1403.8,290 1415,295 1425,302 1436.2,306.2 1437.5,315 1441.2,322.5 1448,333.8" fill="none" stroke="#86c9ea" stroke-width="2.2" stroke-linejoin="round" stroke-linecap="round"/>
<path d="M622.5,452 618.8,455 616.2,461.2 616.2,467.5 611.2,471.2 602.5,473.8 593.8,476.2 587.5,476.2 578.8,480 570,486.2 565,492.5 561.2,500 550,501.2 541.2,502.5 538.8,512.5 536.2,520 532.5,528.8 528.8,535 527.5,538 M476.2,553.8 490,549.5 505,544.5 520,540 535,537 545,536.2 548.8,540 560,542.5 563.8,545.5 575,546.2 580,552.5 590,555 600,555 610,556.2 618.8,558.8 627.5,557 632.5,552.5 637.5,548.8 638,541.2 637.5,536.2 642.5,535 651.2,537.5 660,541.2 667.5,540 677.5,538.8 683.8,541.2 690,545 697.5,549.5 705,552.5 711.2,553.8 712.5,557 720,558.8 730,563.8 740,567.5 750,570 757.5,572.5 762.5,577.5 767.5,582.5 770,590 773.8,597.5 778.8,605 780,615 775,620 767.5,625 763.8,630 762.5,635 757.5,638.8 755,645 760,648.8 761.2,652.5 755,655 752.5,656.2 M476.2,553.8 483.8,557.5 485,566.2 490,572.5 497.5,578.8 501.2,585 496.2,588.8 491.2,592.5 490,597.5 496.2,601.2 497.5,607.5 490,608.8 480,608 470,607 465,608.8 458.8,610 M458.8,610 450,606.2 440,602.5 M458.8,610 465,613.8 465,622.5 461.2,628.8 463.8,635 467.5,642.5 466.2,650 465,656.2 470,663.8 477.5,670 485,676.2 497.5,678.8 510,680 520,683.8 530,687.5 540,688.8 552.5,691.2 565,693.8 575,692.5 582.5,692.5 590,696.2 596.2,700 600,706.2 606.2,710 612.5,711.2 618.8,712.5 623.8,707.5 630,706.2 635,705 642.5,701.2 647.5,698.8 647.5,692.5 M647.5,692.5 650,682.5 653.8,673.8 652.5,667.5 647.5,662.5 650,657.5 655,655 662.5,653.8 670,656.2 675,661.2 677.5,667.5 680,673.8 685,677.5 692.5,680 700,683.8 705,685 708.8,681.2 712.5,687.5 720,688.8 725,691.2 730,690 737.5,688.8 737.5,682.5 736.2,676.2 742.5,675 750,676.2 751.2,670 750,666.2 745,666.2 737.5,663.8 731.2,658.8 727.5,652.5 732.5,650 740,652.5 752.5,656.2 M752.5,656.2 762.5,657.5 772.5,652.5 780,652.5 785,657.5 788.8,663.8 797.5,666.2 806.2,670 812.5,675 813.8,682.5 817.5,687.5 825,690 835,688.8 840,685 848,683.8 M642.5,452 647.5,462.5 652.5,471.2 657.5,476.2 652.5,480 660,486.2 667.5,492.5 670,500 675,497.5 680,500 687.5,496.2 697.5,493.8 707.5,493.8 713.8,496.2 714.5,503.8 710,510 702.5,516.2 698.8,517.5 705,521.2 715,526.2 725,530 730,535 732.5,540 740,543.8 750,546.2 755,543.8 752.5,537.5 760,535 767.5,532.5 775,534.5 785,531.2 795,528.8 805,528.8 808.8,535 806.2,542.5 800,547.5 792.5,551.2 793.8,556.2 788.8,560 790,566.2 797.5,571.2 807.5,575.5 817.5,575 830,572.5 840,570 848,567.5 M817.5,576.2 825,582.5 832.5,590 835,600 836.2,610 840,617.5 848,621.2 M211.2,648.8 220,648 227.5,647 232.5,642.5 236.2,635 241.2,627.5 245,625 252.5,626.2 260,625.5 267.5,627.5 273.8,628.8 280,627.5 286.2,622.5 292.5,618.8 301.2,619.5 306.2,623 312.5,625 322.5,626.2 335,625 345,621.2 355,617 365,618.2 372.5,616.2 378.8,612.5 383.8,607 390,604.5 400,603 410,601.2 420,601.2 432.5,599.5 442.5,601.2 M840,686.2 848.8,685.5 857.5,687.5 865,688.8 875,690 880,693.8 890,696.2 900,700 908.8,701.2 M812.5,682.5 820,687.5 827.5,690 837.5,688.8 840,686.2 M908.8,701.2 910,710 905,717.5 900,725 895,731.2 887.5,735 882.5,741.2 877.5,747.5 870,751.2 862.5,747.5 855,745 847.5,743.8 842.5,748.8 843.8,756.2 837.5,762.5 836.2,767.5 842.5,773.8 847.5,777.5 855,783.8 860,787.5 862.5,782.5 865,786.2 870,783.8 877.5,780 887.5,773.8 895,775 902.5,776.2 908.8,783.8 913.8,790 917.5,792.5 922.5,795 928.8,790 M860,787.5 857.5,793.8 860,801.2 855,805 845,806.2 835,812.5 M908.8,701.2 917.5,705 927.5,710 937.5,713.8 947.5,720 951.2,727.5 947.5,733.8 935,737.5 922.5,740 912.5,741.2 910,747.5 911.2,757.5 917.5,762.5 922.5,768.8 927.5,776.2 930,785 928.8,790 930,795 932.5,805 931.2,815 922.5,818.8 920,821.2 927.5,825 933.8,830 931.2,840 935,846.2 940,848.8 M937.5,713.8 936.2,702.5 937.5,695 947.5,690 950,686.2 943.8,682.5 935,678.8 940,677.5 952.5,677.5 970,677.5 M666.2,793.8 670,796.2 676.2,790 677.5,781.2 683.8,777 687,771.2 M693.8,790 696.2,785 701.2,782 707.5,787.5 713.8,793.8 712.5,798.8 717.5,805 725,803.8 728.8,811.2 733.8,818.8 740,827.5 745,835 751.2,833.8 753.8,840 752.5,846.2 757.5,847.5 765,842.5 775,843.8 782.5,838.8 783.8,831.2 M678.8,723.8 682.5,730 686.2,738.8 M808.8,785 811.2,792.5 815,800 822.5,803.8 830,800 833.8,803.8 833.8,812.5 825,815 815,815 805,815 797.5,818.8 796.2,825 800,833.8 810,832.5 817.5,837.5 818.8,845 815,852.5 812.5,860 817.5,867.5 820,875 815,880 820,883.8 830,886.2 837.5,892.5 847.5,893.8 853.8,897.5 855,905 850,911.2 843.8,913.8 M782.5,812.5 786.2,805 790,797.5 M815,880 825,875 835,873.8 845,876.2 855,875 862.5,870 872.5,866.2 876.2,860 881.2,858.8 886.2,863.8 895,867.5 902.5,862.5 910,860 917.5,857.5 922.5,852.5 930,848.8 940,848.8 945,843.8 952.5,846.2 960,840 970,840 976.2,842.5 977.5,850 975,857.5 972.5,863.8 970,870 975,873.8 982.5,871.2 985,877.5 992.5,878.8 995,870 1000,867.5 1010,867.5 1017.5,862.5 1025,860 1035,862.5 1042.5,857.5 1045,850 1048,845 M993.8,878.8 992.5,890 988.8,900 988.3,900 983.3,905 980,911.7 979.2,918.3 975.8,924.2 970,927.5 965,930.8 962.5,935.8 958.3,939.2 954.2,940.8 951.7,944.2 945.8,946.7 942.5,950 940,953.3 M927.5,776.2 930,767.5 940,760 950,756.2 960,751.2 970,752.5 980,757.5 990,760 1000,762.5 1010,762.5 1017.5,758.8 1020,765 1030,757.5 M817.5,577.5 830,573.8 840,570 846.2,566.2 847.5,555 850,545 855,537.5 862.5,532.5 868.8,531.2 872.5,537.5 867.5,547.5 863.8,555 865,558.8 875,561.2 885,566.2 890,567.5 M890,567.5 885,572.5 882.5,580 883.8,585 875,584.5 867.5,586.2 865,592.5 866.2,597.5 862.5,602.5 867.5,605 872.5,607.5 873.8,615 867.5,617.5 862.5,622.5 861.2,627.5 855,623.8 847.5,620 840,616.2 836.2,610 837.5,602.5 835,595 832.5,590 827.5,585 821.2,580 817.5,577.5 M890,567.5 900,571.2 910,571.2 917.5,568.8 920,562.5 923.8,557.5 922.5,552.5 930,547.5 937.5,542.5 945,535 950,531.2 955,532.5 962.5,530 970,526.2 973.8,528.8 974.5,530 M883.8,585 892.5,590 900,593.8 907.5,596.2 913.8,600 915,607.5 912.5,615 913.8,622.5 907.5,625 900,623.8 893.8,627.5 890,635 880,636.2 870,633.8 865,635 862.5,641.2 860,646.2 866.2,650 863.8,656.2 863.8,663.8 857.5,667.5 851.2,670 847.5,675 848.8,681.2 842.5,683.8 840,685 M956.2,557.5 958.8,565 962.5,572.5 M960,602.5 961.2,608.8 962,615 M974.5,530 980,525 987.5,525 995,517.5 1000,511.2 1010,508.8 1020,506.2 1030,503.8 1040,502.5 1045,501.2 M1045,501.2 1048.8,506.2 1051.2,510 1045,513.8 1042.5,516.2 1050,520 1053.8,526.2 1051.2,532.5 1045,536.2 1037.5,540 1032.5,547.5 1031.2,555 1036.2,562.5 1041.2,568.8 1042.5,576.2 1037.5,582.5 1032.5,588.8 1030,595 1032.5,601.2 1033.8,602.5 M1033.8,602.5 1035,610 1032.5,617.5 1027.5,622.5 1017.5,626.2 1007.5,628.8 997.5,628.8 994.5,632 M1033.8,602.5 1042.5,603.8 1052.5,606.2 1062.5,608.8 1070,607.5 1075,606.2 1077.5,612.5 1073.8,615 M1073.8,615 1072.5,605 1075,597.5 1082.5,590 1087.5,582.5 1095,576.2 1105,571.2 1115,566.2 1122.5,562.5 1130,558.8 1132.5,557.5 M1060,634.5 1070,637.5 1077.5,643.8 1091.2,644.5 1096.2,645.5 M1096.2,645.5 1096.2,647.5 1095,652.5 1102.5,656.2 1101.2,661.2 1092.5,662.5 1086.2,657.5 1080,657.5 1078.8,663.8 1073.8,667.5 1072.5,673.8 1067.5,677.5 1063.8,680 1066.2,685 1072.5,690 1080,695 1086.2,692.5 1086.2,700 1085,710 1080,715 1076.2,721.2 M1096.2,645.5 1098.8,640 1103.8,636.2 1110,637.5 1113.8,642.5 1117.5,645 1126.2,643.8 1132.5,645.5 1140,648 1146.2,642.5 1152.5,637.5 1160,633.8 1166.2,632 M1102.5,648.8 1112.5,653.8 1122.5,658.8 1130,662.5 1137.5,665 1140,673.8 1142.5,680 1147.5,685 1155,683.8 1162.5,685 1165,690 1160,693.8 1152.5,696.2 1147.5,702.5 1148.8,710 1153.8,715 1155,721.2 1162.5,723.8 1172.5,727.5 M970,677 977.5,685 985,691.2 995,695 1005,696.2 1015,696.2 1025,697.5 1032.5,696.2 1036.2,701.2 1037.5,707.5 1045,711.2 1055,713.8 1065,717.5 1075,720 1076.2,721.2 M955,642.5 957.5,650 962.5,657.5 967.5,665 970,672.5 970,677 M1083.8,503.8 1090,500 1097.5,495 1103.8,491.2 1110,496.2 1117.5,501.2 1123.8,501.2 1121.2,507.5 1115,510 1117.5,516.2 1113.8,523.8 1105,525 1095,526.2 1086.2,526.2 1078.8,523.8 1076.2,517.5 1080,512.5 1087.5,510 1086.2,505 1083.8,503.8 M1107.5,516.2 1116.2,515 1123.8,513.8 1128.8,516.2 1126.2,522.5 1130,526.2 1135,528.8 1136.2,533.8 M1116.2,515 1116.2,521.2 1108.8,522 1107.5,516.2 1110,525 1111.2,532.5 1108.8,538.8 1107.5,543.8 1115,547.5 1125,548.8 1127.5,550 M1045,501.2 1041.2,495 1038.8,487.5 1040,480 1045,476.2 1048.8,471.2 1055,466.2 1062.5,466.2 1063.8,471.2 1062.5,476.2 1067.5,477.5 1077.5,473.8 1087.5,470 1097.5,468.8 1107.5,467.5 1111.2,461.2 1116.2,456.2 1127.5,454.5 1135,457.5 1140,462.5 1142.5,467.5 1141.2,475 1145,480 1152.5,482.5 1162.5,483.8 1168.8,482.5 1170,475 1167.5,467.5 1170,461.2 1175,460 1180,463.8 1185,467.5 1188,470 M1168.8,482.5 1162.5,488.8 1157.5,493.8 1160,498.8 1167.5,502.5 1172.5,507.5 1177.5,513.8 1180,516.2 M1076.2,721.2 1080,724.2 1086.7,727.5 1089.2,730.8 1085,735 1085.8,741.7 1089.2,748.3 1091.7,755 1092.5,758.3 M1175,726.7 1181.7,725.8 1185,729.2 1191.7,730.8 1195.8,733.3 1200,730.8 1205.8,727.5 1210,724.2 1212.5,719.2 1215,715.8 1216.7,713.3 M1205.8,727.5 1208.3,732.5 1213.3,735.8 1221.7,736.7 1230,735 1234.2,733 M1215,715.8 1213.3,710.8 1216.7,709.2 1223.3,711.7 1228.3,713.3 M1175,726.7 1174.2,733.3 1170,738.3 1166.7,740.8 1166.7,745 1160,747.5 1157.5,753.3 1153.3,758.3 1146.7,763.3 1141.7,766.7 1140,768.3 M1140,768.3 1136.7,765 1130,763.3 1125,760 1120,756.7 1116.7,755 1113.3,758.3 1110,762.5 1105.8,760.8 1106.7,756.7 1108.3,753.3 1106.7,751.7 M1092.5,758.3 1078.3,756.7 1073.3,760 1066.7,763.3 1058.3,766.7 1050,769.2 1043.3,771.7 1040.8,774.2 1040,775 M1030.8,756.7 1033.3,766.7 1035.8,773.3 1040,775 1043.3,781.7 1045.8,790 1042.5,796.7 1037.5,804.2 1033.3,808.3 1031.7,811.7 1034.2,816.7 1036.7,821.7 1037.5,828.3 1039.2,835 1041.7,841.7 1045,846 M1140,768.3 1138.3,773.3 1141.7,778.3 1145,783.3 1147.5,790 1146.7,794.2 1147.5,794.7 M1147.5,794.7 1153.3,795 1155,800.8 1156.7,806.7 1160,811.7 1165,813.3 1170,810.8 1174.2,810 1176.7,814.2 1180,816.7 1186.7,815 1191.7,815.8 1194.2,820 1200,823.3 1206.7,824.2 1210.8,823.3 M1147.5,794.7 1143.3,796.7 1136.7,800 1130,802.5 1123.3,804.2 1118.3,806.7 1114.2,810 1115,816.7 1111.7,821.7 1106.7,825 1103.3,828.3 1101.7,835 1100,841.7 1099.2,846 M1045,846 1044.2,845 1041.7,855.8 1040.8,862.5 M1040.8,862.5 1046.7,864.2 1053.3,863.3 1057.5,866.7 1056.7,871.7 1051.7,874.2 1046.7,877.5 1047.5,880.8 1051.7,882.5 1060,881.7 1068.3,879.2 1076.7,877.5 1081.7,880.8 1084.2,878.3 1085,873.3 1085.8,873.3 M1085.8,873.3 1086.7,866.7 1088.3,860 1090.8,853.3 1095,848.3 1098.3,843.3 1101.7,836.7 1102.5,830 1105,825 1111.7,821.7 1115,820 M1085.8,873.3 1093.3,874.2 1100,876.7 1106.7,881.7 1110,888.3 1112.5,895 1114.2,901.7 1116.7,905.8 M1036.7,933.3 1040,930.8 1046.7,930 1051.7,930 1053.3,935 1052.5,936.7 M1036.7,933.3 1037.5,937.5 1041.7,939.2 1046.7,939.2 M1220,200 1226.2,203.8 1223.8,210 1215,213.8 1215,217.5 1222.5,221.2 1230,222.5 1237.5,220 1242.5,223.8 1247.5,227.5 1248.8,235 1252.5,242.5 1257.5,246.2 1267.5,247.5 1277.5,246.2 1290,247 1300,245 1305,241.2 1311.2,240 1317.5,245 1323.8,250 1327.5,255 1322.5,261.2 M1322.5,261.2 1320,262.5 1315,270 1310,280 1307.5,290 1305,296.2 1297.5,300 1290,305 1291.2,315 1290,322.5 1285,315 1280,316.2 1270,322.5 1260,328.8 1250,335 1243.8,340 1242.5,346.2 1247.5,352.5 1255,356.2 1262.5,351.2 1267.5,352.5 1266.2,357.5 1257.5,360 1256.2,365 M1256.2,365 1262.5,366.2 1272.5,366.2 1277.5,372.5 1280,380 1287.5,385 1295,386.2 1305,387 1312.5,385 1318.8,386.2 1325,392.5 1335,393 1345,395 1350,400 1352.5,406.2 1360,408.8 1365,415 1372.5,418.8 1380,412.5 1383.8,415 1387.5,422.5 1392.5,430 1397.5,431.2 1405,425 1415,422.5 1422.5,422.5 1428.8,421.2 1431.2,428.8 1440,432.5 1450,433.8 M1256.2,365 1247.5,372.5 1235,375 1226.2,373.8 1223.8,378.8 1230,382.5 1235,388.8 1233.8,398.8 1237.5,408.8 1245,413.8 1253.8,410 1260,415 1263.8,422.5 1267.5,430 1265,433.8 1272.5,435 M1272.5,435 1271.2,441.2 1262.5,443.8 1252.5,447.5 1240,450 1227.5,453.8 1215,457.5 1205,461.2 1195,465 1188,470 M1272.5,435 1280,438.8 1287.5,446.2 1295,443.8 1300,450 1305,457.5 1310,465 1312.5,473.8 1316.2,480 1320,486.2 1317.5,492.5 1320,493.8 M943.3,987.5 950,986.7 956.7,985 963.3,981.7" fill="none" stroke="#b6b6b6" stroke-width="2.7" stroke-linejoin="round" stroke-linecap="round"/>
<path d="M900.8,953.7 905,950.8 908.3,950 910,946.7 912.5,945.3 914.2,949.2 917.5,950 919.2,947.5 920.8,950.8 924.2,953.3 926.7,955.8 931.7,955.8 935,953.3 935.8,949.7 938.3,953.3 942.5,955 945,957.5 942.5,960.8 940,964.2 939.2,968.3 940.8,973.3 943,977.5 945,981.7 948.3,983.3 953.3,983.3 956.7,981.7 958,978.3 955.8,975 951.7,973.3 950,970 950.8,965.8 954.2,964.2 956.7,966.7 955.8,962.5 955.3,957.5 958.3,960 961.7,958.7 966.7,956.7 971.7,955.3 976.7,954.2 980,953.3 985,952.5 987.5,949.2 990,951.7 993.3,948.3 996.7,949.2 1000,946.7 1003.3,942.5 1005,945.8 1007.5,948.3 1010.8,945 1015,944.2 1018.3,940 1021.7,941.7 1025,939.2 1030,938.3 1030.8,935 1030,926.7 1032.5,924.7 1035.8,926.7 1037.5,930.8 1040.8,935 1044.2,933.3 1046.7,930.8 1050,932.5 1054.2,928.3 1056.7,925.8 1061.7,925 1066.7,922.5 1070.8,923.3 1075,925.8 1078.3,923.3 1081.7,922.5 1086.7,924.2 1091.7,921.7 1096.7,920 1100,918.3 1102.5,914.2 1104.2,910.8 1108.3,909.2 1111.7,906.7 1115.8,905.8 1119.2,903.3 1121.7,899.2 1125,898.3 1128.3,895.8 1131.7,893.3 1135.8,890 1138.3,885 1134.2,884.2 1138.3,881.7 1142.5,880 1146.7,881.7 1150,879.2 1152.5,875 1156.7,873.3 1159.2,869.2 1161.7,865.8 1165.8,864.2 1168.3,860 1171.7,861.7 1174.2,857.5 1178.3,859.2 1180,855.8 1176.7,853.3 1175,848.3 1174.2,843.3 1175.8,838.3 1174.2,834.2 1176.7,830.8 1181.7,830 1185.8,831.7 1186.7,827.5 1190,824.2 1193.3,820.8 1195,820 M928.3,995 933.3,993.3 937.5,991.3 943.3,990.8 950,990 956.7,988.3 960.8,990 961.7,986.7 965,987.5 969.2,991.7 970.8,995.8 970,999.2 966.7,1000 965,1003.3 962.5,1008.3 960,1013.3 958.3,1019.2 954.2,1022.5 950,1025 945,1027.5 939.2,1030.8 937.5,1033.3 931.7,1032.5 925,1030 919.2,1027.5 915.8,1025 914.2,1016.7 914.2,1008.3 918.3,1004.2 923.3,1000.8 927.5,998.3 928.3,995 M1220,864.7 1225,865.8 1229.2,869.2 1230.8,873.3 1229.2,880 1226.7,890 1223.3,900 1220,910 1216.7,916.7 1212.5,923.3 1208.3,930 1205.8,936.7 1204.2,943.3 1201.7,944.2 1200,940 1196.7,935 1191.7,928.3 1188.3,921.7 1185.8,913.3 1186.7,905 1189.2,898.3 1194.2,890 1200,881.7 1206.7,873.3 1213.3,868.3 1220,864.7 M1190,818.3 1193.3,820 1196.7,819.2 1200,813.3 1205,806.7 1209.2,802.5 1213.3,797.5 1211.7,799.2 1212.5,795.8 1216.7,794.2 1222.5,792.5 1221.7,787.5 1224.2,783.3 1220.8,778.3 1223.3,773.3 1228.3,775.8 1230.8,773.3 1230,767.5 1228.3,763.3 1224.2,765 1220,765.8 1222.5,764.2 1226.7,760 1230,756.7 1225,753.3 1220,750 1215,746.7 1210,745.8 1205,748.3 1200.8,748.3 1200,745 1202.5,741.7 1208.3,738.3 1213.3,735.8 1218.3,733.3 1225,730 1228.3,725 1227.5,720 1223.3,717.5 1218.3,715 1215.8,710.8 1220,711.7 1225,714.2 1228.3,713.3 1227.5,708.3 1224.2,704.2 1220,701.7 1215,697.5 1210,694.2 1205.8,691.7 1205,686.7 1202.5,680 1200,673.3 1200,676 1198.3,671.7 1195.8,665 1193.3,658.3 1191.3,653.3 1188.3,650 1183.3,647.5 1178.3,645.8 1173.3,645 1169.2,642.5 1165.3,640 1164.7,636.7 1166.7,633.3 1169.2,630 1172.5,625 1175.8,620.8 1180,617.5 1185,613.3 1188.3,610.8 1187.5,606.7 1190.8,605.8 1192.5,608.7 1195.8,607.5 1200,605 1200.8,601.7 1204.2,599.2 1205,595.8 1210,595 1215.8,593.3 1220,590.8 1221.7,591.7 1226.7,589.2 1231.7,587.5 1235.8,586.7 1237.5,590 1240.8,590 1243.3,587.5 1242.5,585 1245,581.7 1246.3,578 1241.7,577.5 1236.7,576.7 1233.3,574.7 1231.7,575.3 1226.7,576.3 1220.8,575.3 1216.7,573 1211.7,571.7 1206.7,569.2 1201.7,567.5 1196.7,568.3 1190.8,570.8 1186.7,574.2 1182.5,577.5 1180.8,580.8 1177.5,583.7 1171.7,584.7 1165.8,583.7 1160,581.7 1156.7,578.3 1157.5,574.2 1160,570.8 1164.2,569.2 1162.5,566.7 1158.3,562.5 1154.2,560.8 1150,562.5 1146.7,561.3 1141.7,562 1137.5,565.3 1135.8,561.7 1133.3,558.3 1130.8,556.7 1128.3,553.3 1126.3,549.2 1127.5,545 1130.8,541.7 1130.8,537.5 1133.3,534.7 1137.5,535 1142.5,537.5 1147.5,539.2 1150,536.7 1156.7,535 1162.5,532.5 1165.8,529.2 1166.7,525 1170,520.8 1175,517.5 1181.7,515 1188.3,512.5 1195,510 1196.7,506.7 1200.8,502.5 1205.8,498.3 1210,495 1215,492.5 1220,493.3 1224.2,493.3 1226.7,491.7 1230,492.5 1232.5,496.7 1235.8,500 1237.5,504.2 1233.3,510 1229.2,515 1224.2,518.3 1220,520.8 1219.2,525 1213.3,526.3 1215,528.3 1218.3,529.2 1223.3,530.8 1228.3,530 1224.2,533.3 1223.3,536.7 1216.7,540 1210,542.5 1210.8,545 1216.7,543.3 1222.5,543.3 1224.2,540.8 1230,538.3 1236.7,534.2 1243.3,530 1250,526.7 1256.7,524.2 1261.7,521.7 1268.3,520.8 1276.7,519.7 1285,520" fill="none" stroke="#00007f" stroke-width="1.5" stroke-linejoin="round"/>
<path d="M924.3,964.8h2v2h-2zM959.5,967.7h2v2h-2zM956.0,974.8h2v2h-2zM1016.8,1001.2h2v2h-2zM1036.8,1008.7h2v2h-2zM1104.8,1076.5h2v2h-2zM1129.8,1104.0h2v2h-2zM979.8,1058.2h2v2h-2zM981.5,1058.7h2v2h-2zM999.0,1061.5h2v2h-2zM998.2,1065.7h2v2h-2zM1013.7,1064.8h2v2h-2zM983.2,1072.3h2v2h-2zM985.7,1071.5h2v2h-2zM984.0,1074.3h2v2h-2zM981.5,1073.7h2v2h-2zM994.0,1075.7h2v2h-2zM1005.7,1072.3h2v2h-2zM1009.0,1075.7h2v2h-2zM1004.0,1077.3h2v2h-2zM984.0,1079.8h2v2h-2zM988.2,1079.0h2v2h-2zM987.3,1083.2h2v2h-2zM1006.0,1083.7h2v2h-2zM974.0,1089.3h2v2h-2zM999.0,1090.7h2v2h-2zM1054.0,1087.0h2v2h-2zM1055.7,1088.2h2v2h-2zM1052.3,1089.0h2v2h-2zM1059.8,1082.3h2v2h-2zM1058.2,1079.8h2v2h-2zM1172.0,901.5h2v2h-2zM1173.5,904.0h2v2h-2zM1171.0,907.0h2v2h-2zM1167.8,910.2h2v2h-2zM1174.0,912.0h2v2h-2zM1218.5,926.5h2v2h-2zM1219.8,941.5h2v2h-2zM1221.0,943.5h2v2h-2zM1232.0,857.0h2v2h-2zM1233.5,859.0h2v2h-2zM1202.0,947.8h2v2h-2zM1177.8,831.5h2v2h-2zM1180.2,834.0h2v2h-2zM1183.5,841.5h2v2h-2zM1175.2,836.5h2v2h-2zM1176.0,858.5h2v2h-2zM1177.0,860.2h2v2h-2zM1170.2,865.2h2v2h-2zM1144.5,883.5h2v2h-2zM1146.0,885.2h2v2h-2zM1231.5,745.2h2v2h-2zM1234.0,746.5h2v2h-2zM1238.5,741.0h2v2h-2zM1241.0,734.0h2v2h-2zM1230.2,751.5h2v2h-2zM1232.8,754.0h2v2h-2zM1236.5,756.5h2v2h-2zM1239.0,755.2h2v2h-2zM1235.2,759.0h2v2h-2zM1232.8,750.2h2v2h-2zM1236.5,752.8h2v2h-2zM1202.0,503.2h2v2h-2zM1254.0,526.0h2v2h-2zM1238.7,534.3h2v2h-2zM1245.7,532.3h2v2h-2zM1248.2,532.8h2v2h-2zM1247.3,537.7h2v2h-2zM1257.7,537.0h2v2h-2zM1226.5,541.0h2v2h-2zM1202.3,554.3h2v2h-2zM1199.8,563.2h2v2h-2z" fill="#00007f"/>
<ellipse cx="1048.3" cy="1090.8" rx="12" ry="6.5" transform="rotate(-20 1048.3 1090.8)" fill="none" stroke="#00007f" stroke-width="1.3" stroke-dasharray="2.5 1.5"/>
<ellipse cx="1052.3" cy="1088.8" rx="4.5" ry="2.5" transform="rotate(-20 1048.3 1090.8)" fill="none" stroke="#00007f" stroke-width="1.2" stroke-dasharray="2 1"/>
<circle cx="1173.8" cy="903.8" r="2" fill="none" stroke="#00007f" stroke-width="1.2"/>
<circle cx="1088.3" cy="966.2" r="1.8" fill="none" stroke="#00007f" stroke-width="1.1"/>
<circle cx="1108.3" cy="974.7" r="1.8" fill="none" stroke="#00007f" stroke-width="1.1"/>
<path d="M100,547.5 91.2,550 87.5,548.8 85.5,543.8 86.2,540 82.5,536.2 80.5,531.2 82,528.8 86.2,528 89.5,524.5 89.5,518.8 92,514.5 97.5,513 103.8,510 111.2,506.2 111.2,503.2 116.2,504.2 123.8,502.5 128.8,501.2 131.2,503.8 132.5,508.8 142.5,507 150,506.2 153.8,501.2 157.5,495 162.5,491.2 175,492 181.2,491.2 182.5,488 188.8,486.2 191.2,483.2 200,480.5 210,476.2 220,472.5 230,470 231.2,467.5 236.2,467.5 239.5,465 240,458.8 238.8,455 239.5,451.2 243.8,448 247.5,446.2 245,444.5 250.5,442.5 252.5,438.8 251.2,431.2 247.5,423.8 245,416.2 244.5,407.5 242.5,403 236.2,402 232.5,400 233.8,397 242.5,395 255,393 267.5,390 276.2,388.2 283.8,391.2 291.2,392.5 294.5,391.2 294.5,388 291.2,387.5 288.2,383.8 290,376.2 295,368.8 301.2,356.2 305,347.5 308.8,344.5 320,348 330,350 345,349.5 352,352 358.8,348.8 367,346.2 369.5,341.2 367,333.8 365.5,325 370,320 374.5,315.8 383.8,315 391.2,312.5 396.2,306.2 402,298.8 410,298.8 418.8,298.2 419.5,298 421.2,301.2 419.5,305.5 424.5,308.8 425,312 431.2,314.5 437.5,317.5 440,321.2 445,323.8 451.2,325.5 458.8,324.5 465,328 471.2,329.5 476.2,332 481.2,336.2 485,343.8 490,348.8 494.5,352.5 496.2,358.8 494.5,366.2 495.5,371.2 492.5,376.2 488.8,381.2 488,386.2 491.2,391.2 500,393 510,395 520,395.5 530,397 540,396.2 550,397.5 557.5,399.5 567.5,403.8 577.5,408.8 587.5,413 595,414.5 599.5,414.5 599.5,419.5 603,422 607,428.8 612.5,438.8 618.8,445 622.5,448.8 623.8,451.2 632.5,450.5 642.5,449.5 650,450.5 665,452.5 680,453.8 696.2,454.5 700,454.5 710,453 722.5,452 735,453 750,456.2 758.8,462.5 770,464.5 780,468 790,471.2 800,472.5 810,472 815,472 817,475.5 827.5,477 836.2,473 847.5,468.8 860,464.5 870,461.2 885,458 895,458.8 905,457.5 917.5,458 932.5,457 943.8,453.8 955,450 962.5,445 968.8,438.8 975,435 983.8,432.5 991.2,428 990,422.5 983.8,417.5 980.5,412 982.5,406.2 986.2,399.5 992.5,395.5 1000,395.5 1008.8,399.5 1020,401.2 1032.5,402 1040,399 1040,398.8 1046.2,395 1052.5,389.5 1057.5,387 1067.5,387.5 1077.5,386.2 1086.2,382.5 1093.8,378 1096.2,372.5 1101.2,367.5 1106.2,364.5 1115,363.8 1121.2,362.5 1126.2,359.5 1133.8,359.5 1142.5,356.2 1150,356.2 1157.5,355.5 1165,357.5 1173.8,358.8 1180,357.5 1182,352.5 1178.8,346.2 1172.5,340.5 1165,335.5 1157.5,331.2 1150,327 1141.2,325 1133.8,326.2 1127.5,329.5 1122.5,333 1115,330 1105,328.8 1095,330 1087.5,332.5 1081.2,328.8 1078.2,323.8 1081.2,320 1084.5,318.8 1086.2,312.5 1091.2,303.8 1097.5,295 1103.8,286.2 1107,282 1112.5,285 1122.5,287 1131.2,288 1140,282.5 1147.5,278 1153.8,275.5 1158.8,276.2 M118,575.5 110,580 103.8,583 103.8,585.5 110,586.2 116.2,587.5 121.2,591.2 128.8,593 135,596.2 139.5,602.5 139.5,608 143.8,613.8 150,614.5 156.2,618.2 165,621.2 175,622.5 182.5,622.5 186.2,628.8 190,636.2 193.8,642.5 200,645 207.5,648 211.2,650 209.5,653.8 204.5,656.2 203.8,662.5 205,667.5 208.8,672 213.8,677.5 216.2,683.8 217,690 213.8,695 208.8,697 205,695 203.8,690.5 200,691.2 196.8,693 197.5,700 201.2,705 204.5,708 205,717.5 208.8,723.8 212.5,728.8 217.5,729.5 221.2,728 226.2,730 231.2,734.5 235,738.8 240,740 248.8,743 256.2,747 261.2,752.5 263.8,752.5 266.2,747 268.8,743.2 275,742.5 283.8,745 287.5,750 295,754.5 301.2,759.5 310,762.5 316.2,767.5 321.2,772.5 326.2,769.5 331.2,769.5 333.8,772.5 335,778.8 341.2,782 350,786.2 355,784.5 357.5,787.5 356.2,792.5 362.5,793 369.5,791.2 372.5,796.2 377.5,802.5 380,797.5 382.5,801.2 387.5,800.5 391.2,797.5 397.5,800 405,803.8 412.5,803.8 418.8,803.8 420,802 426.2,803 433.8,800 440,798 443.8,800 445,810 447.5,817.5 450,816.2 452.5,810 457.5,802.5 462.5,797.5 468,795.5 468,795.5 471.2,795.5 477.5,797 483.8,799.5 488.8,798.8 493.8,801.2 498,803.8 501.2,800 505,799.5 508,802.5 508.8,807.5 512.5,811.2 518.8,813 520.5,817.5 519.5,822.5 522,827 530,826.2 540,826.2 550,826.2 558.8,824.5 562.5,821.2 567.5,815 573.8,810.5 581.2,808.8 590,805 597.5,800.5 602.5,796.2 610,793.8 620,795.5 627.5,798.8 635,803 641.2,806.2 645.5,803.8 646.2,797.5 648.8,791.2 652.5,788 657.5,791.2 663.8,795 666.2,801.2 668,807.5 672.5,810 677.5,811.2 679.5,818.8 680,830 678.8,841.2 676.2,847.5 676.2,851.2 670,856.2 663.8,861.2 660,866.2 657,870 655.5,876.2 651.2,878.8 651.2,886.2 654.5,890 653.8,893.8 650.5,897 653,899.5 658.8,895.5 665,893 673.8,892.5 682.5,892 681.2,895 677.5,898 680.5,902 682,908.8 685,914.5 692.5,917.5 697.5,918.8 695,923.8 695.5,930 692.5,935 689.5,939.5 693.8,941.2 702.5,942 708.8,942 708,947.5 712.5,950 713.8,955 718.8,953.8 722.5,955 730,951.2 736.2,948 737,956.2 739.5,962 746.2,961.2 751.2,963 753,959.5 751.2,950 750,943.8 747,937.5 750,933 760,932.5 763.8,930 768.8,925.5 773.8,927 781.2,932 785,928.8 788.8,924.5 792.5,928.8 795,923.8 798.8,927 802.5,931.2 806.2,926.2 811.2,926.2 817.5,923.8 823.8,920 828.8,915 836.2,911.2 841.2,917.5 848,920 848,920 852.5,920.5 861.2,921.2 868.8,923 869.5,927.5 865,931.2 866.2,938.8 870,943.8 876.2,947.5 882.5,951.2 891.2,952 900,953.8 M100,547.5 103.8,548.8 111.2,553.2 M111.8,560 113,566.2 114.5,571.2 M1286.2,521.2 1287.5,515 1292.5,510 1300,505 1310,500 1320,496.2 1326.2,493.8 1332.5,488.8 1338.8,482.5 1341.2,476.2 1347.5,473.8 1351.2,477.5 1356.2,480 1365,482 1375,482.5 1380,478.8 1378.8,473.8 1375.5,470 1380,467.5 1387.5,467.5 1396.2,465.5 1402.5,461.2 1406.2,458 1412.5,457.5 1416.2,452 1417.5,446.2 1421.2,445 1426.2,447.5 1427.5,451.2 1431.2,453.8 1435,457.5 1436.2,453.8 1432.5,450 1438.8,448.8 1446.2,447.5 1450,441.2 1452,433.8 1451.2,425 1450,412.5 1447.5,405 1445,400 1451.2,398.8 1458.8,396.2 1465,389.5 1473.8,392 1483.8,394.5 1491.2,396.2 1495,392.5 1496.2,387 1502.5,383.8 1504.5,378.8 1508.8,373.8 1512.5,368.8 1513,362.5 1516.2,356.2 1520,346.2 1522.5,340 1528.8,337 1533.8,333.8 1533.8,327.5 1530,323.8 1532.5,318.8 1538.8,317 1540.5,314.5 1530,314.5 1512.5,315 M1485,330 1482.5,335 1472.5,335.8 1460,336.2 M1403.8,288.8 1411.2,290 1418.8,295 1425,301.2 M1343.8,250 1348.8,257.5 1353.8,262.5 M1226.2,200.8 1242.5,198.8 1260,197 M1315,202 1321.2,205 1326.2,208.8 1332.5,210.5 1331.2,215.5 M1230,950 1222.5,958.8 1215,967.5 M1183.8,1014.5 1178,1023.8 1172.5,1033.8 M930.3,1080.8 935.8,1088.3 939.2,1095.8 940.8,1101.7 M1161.2,1084.5 1161.2,1109 M1250.8,879.2 1247.2,902.5" fill="none" stroke="#000" stroke-width="3.6" stroke-linejoin="round" stroke-linecap="round"/>
<rect x="1335.4" y="832.5" width="221.0" height="271.79999999999995" fill="#fff"/>
<clipPath id="ic"><rect x="1335.4" y="832.5" width="221.0" height="271.79999999999995"/></clipPath>
<g clip-path="url(#ic)">
<path d="M1423.3,831.7 1468.3,831.7 1463.3,834.2 1450,835.8 1443.3,836.7 1440,841.7 1436.7,845 1433.3,840 1430,836.7 1428.3,845 1423.3,846.7 1418.3,850 1413.3,849.2 1406.7,850 1405.8,845 1410,840 1417.5,837.5 1421.7,836.7 1420,834.2Z M1384.2,851.7 1388.3,850.8 1390.8,854.2 1389.2,860 1386.7,863.3 1385,858.3Z M1376.7,875 1383.3,873.3 1388.3,875 1391.7,879.2 1390,884.2 1389.2,888.3 1385,891.7 1378.3,894.2 1375,886.7 1373.3,881.7Z M1517.5,831.7 1520,838.3 1523.3,843.3 1526.7,847.5 1527.5,843.3 1530,838.3 1533.3,831.7Z" fill="#bde4f7"/>
<path d="M1339.7,831.7 1350.8,831.7 1350,835.8 1346.7,838.7 1342.5,839.7 1340,836.7Z" fill="#bde4f7" stroke="#999" stroke-width="0.7"/>
<path d="M1401.7,833.3 1396.7,835.8 1391.7,838.3 1390,842.5 1386.7,845 1383.3,847.5 1380,850.8 M1433.3,840.8 1440,839.2 1442.5,840 1441.7,842.5 M1381.7,869.2 1386.7,870 1390.8,868.3" fill="none" stroke="#b4b4b4" stroke-width="2.2" stroke-linejoin="round" stroke-linecap="round"/>
<path d="M1355.8,851.3 1361.7,848.3 1366.7,850 1371.7,851.7 1376.7,850.8 1378.3,853.3 1378,858.3 1380,863.3 1382.5,867.5 1386.7,868.3 1388.3,864.2 1385.8,860.8 1384.2,856.7 1385.8,853.3 1388.3,855 1393.3,853.3 1400,851.7 1406.7,850 1413.3,849.2 1418.3,850 1423.3,846.7 1428.3,845 1430,836.7 1433.3,840 1436.7,845 1440,841.7 1443.3,836.7 1450,835.8 1456.7,835 1463.3,833.7 1468.3,832.7 M1373.3,874.2 1380,872.5 1386.7,872 1391.7,870.8 1394.2,872.5 1395.8,875.8 1393.3,879.2 1390.8,883.3 1390,888.3 1386.7,890.8 1381.7,894.2 1376.7,897 1370,895.8 1365,893.3 1363.7,888.3 1363.7,883.3 1366.7,878.3 1370,875.8 1373.3,874.2 M1517.5,831.7 1520,838.3 1523.3,843.3 1526.7,847.5 1527.5,843.3 1530,838.3 1533.3,831.7" fill="none" stroke="#00007f" stroke-width="1.3" stroke-linejoin="round"/>
<path d="M1338,845.3 1341.7,848.3 1346.7,850.8 1351.7,850.8 1355.8,851.7 M1542.5,849.2 1528.3,866.3 M1516.7,884.7 1506.7,904.2 M1503.3,925 1503,936.7 1503.7,946.7 M1503.3,979.2 1494.7,999.7 M1368.7,918.3 1375,926.7 1378.3,933.3 1379.2,937 M1385.5,972 1387.2,978.3 1385.8,985 1382.5,990.8 M1467.5,1032.5 1452.5,1049.5 M1358.7,1038.7 1357.5,1050 1359.2,1060.8 M1403.8,1095 1413.3,1093.3 1422.8,1089.2" fill="none" stroke="#000" stroke-width="3.4" stroke-linejoin="round" stroke-linecap="round"/>
<path d="M1400.7,910.3h2v2h-2zM1410.7,913.7h2v2h-2zM1412.3,914.8h2v2h-2zM1419.8,914.0h2v2h-2zM1402.3,919.0h2v2h-2zM1404.0,920.7h2v2h-2zM1401.5,922.3h2v2h-2zM1404.8,923.7h2v2h-2zM1408.2,920.7h2v2h-2zM1414.8,919.8h2v2h-2zM1416.5,919.0h2v2h-2zM1414.0,924.8h2v2h-2zM1410.7,929.0h2v2h-2zM1397.3,928.2h2v2h-2zM1470.7,920.7h2v2h-2zM1484.8,936.5h2v2h-2zM1453.2,952.7h2v2h-2zM1421.0,877.8h2v2h-2zM1432.8,882.3h2v2h-2zM1369.0,857.7h2v2h-2zM1472.3,862.7h2v2h-2zM1534.8,835.7h2v2h-2zM1535.7,844.0h2v2h-2zM1536.0,845.3h2v2h-2zM1439.0,986.5h2v2h-2zM1443.2,985.7h2v2h-2zM1441.5,989.8h2v2h-2zM1437.3,992.3h2v2h-2zM1445.7,990.7h2v2h-2zM1442.3,994.8h2v2h-2zM1439.0,997.3h2v2h-2zM1447.3,994.0h2v2h-2zM1443.2,1000.7h2v2h-2zM1439.8,1003.2h2v2h-2zM1437.3,1004.8h2v2h-2zM1441.5,1007.3h2v2h-2zM1439.0,1009.0h2v2h-2zM1443.2,1008.2h2v2h-2zM1434.0,1004.8h2v2h-2zM1429.8,1002.7h2v2h-2zM1463.2,985.7h2v2h-2zM1469.8,987.7h2v2h-2zM1472.3,979.8h2v2h-2zM1459.0,994.8h2v2h-2zM1462.3,996.5h2v2h-2zM1465.7,994.8h2v2h-2zM1471.5,994.0h2v2h-2zM1479.8,990.7h2v2h-2zM1483.2,991.5h2v2h-2zM1485.7,994.8h2v2h-2zM1484.0,997.3h2v2h-2zM1479.0,996.5h2v2h-2zM1474.8,998.2h2v2h-2zM1470.7,999.8h2v2h-2zM1469.0,999.0h2v2h-2zM1479.0,1000.7h2v2h-2zM1479.8,1004.0h2v2h-2zM1458.2,999.0h2v2h-2zM1449.8,999.0h2v2h-2zM1452.3,1002.7h2v2h-2zM1450.7,1005.7h2v2h-2zM1455.7,1007.3h2v2h-2zM1460.7,1009.0h2v2h-2zM1464.0,1011.0h2v2h-2zM1467.3,1012.3h2v2h-2zM1470.7,1008.2h2v2h-2zM1474.0,1013.2h2v2h-2zM1469.8,1017.3h2v2h-2zM1465.7,1019.8h2v2h-2zM1454.0,1014.0h2v2h-2zM1460.7,1014.8h2v2h-2zM1421.5,1010.7h2v2h-2zM1419.8,1012.3h2v2h-2zM1413.2,1012.7h2v2h-2zM1400.7,1014.8h2v2h-2zM1429.8,1015.7h2v2h-2zM1430.7,1019.0h2v2h-2zM1434.0,1021.5h2v2h-2zM1436.5,1022.7h2v2h-2zM1443.2,1021.0h2v2h-2zM1439.0,1025.7h2v2h-2zM1419.0,1020.7h2v2h-2zM1414.0,1021.5h2v2h-2zM1410.7,1020.7h2v2h-2zM1405.7,1023.2h2v2h-2zM1400.7,1024.8h2v2h-2zM1420.7,1026.5h2v2h-2zM1425.7,1029.8h2v2h-2zM1424.0,1031.5h2v2h-2zM1452.3,1026.5h2v2h-2zM1454.0,1028.2h2v2h-2zM1450.7,1027.3h2v2h-2zM1460.7,1026.5h2v2h-2zM1443.2,1030.7h2v2h-2zM1445.7,1032.3h2v2h-2zM1435.7,1031.5h2v2h-2zM1434.0,1033.2h2v2h-2zM1438.2,1035.7h2v2h-2zM1432.3,1037.3h2v2h-2zM1444.0,1037.3h2v2h-2zM1447.3,1039.0h2v2h-2zM1432.3,1039.8h2v2h-2zM1445.7,1043.2h2v2h-2zM1429.8,1046.5h2v2h-2zM1419.8,1034.0h2v2h-2zM1406.5,1030.7h2v2h-2zM1402.3,1034.0h2v2h-2zM1401.5,1037.3h2v2h-2zM1387.3,1031.5h2v2h-2zM1386.5,1034.8h2v2h-2zM1379.8,1034.0h2v2h-2zM1374.8,1039.0h2v2h-2zM1424.8,1054.8h2v2h-2zM1414.8,1059.8h2v2h-2zM1414.0,1063.2h2v2h-2zM1414.8,1066.5h2v2h-2zM1415.7,1069.8h2v2h-2zM1414.8,1073.2h2v2h-2zM1419.0,1072.3h2v2h-2zM1409.8,1082.7h2v2h-2zM1368.5,1006.2h2v2h-2zM1439.8,1005.7h2v2h-2zM1440.7,1008.2h2v2h-2zM1438.2,993.2h2v2h-2zM1442.3,986.0h2v2h-2z" fill="#00007f"/>
<ellipse cx="1440.0" cy="929.2" rx="8.3" ry="4.3" transform="rotate(-22 1440.0 929.2)" fill="none" stroke="#00007f" stroke-width="1.1" stroke-dasharray="2.2 0.9"/>
<ellipse cx="1441.0" cy="929.2" rx="4" ry="1.8" transform="rotate(-22 1440.0 929.2)" fill="none" stroke="#00007f" stroke-width="0.9" stroke-dasharray="1.5 1"/>
<circle cx="1462.0" cy="858.8" r="1.4" fill="none" stroke="#00007f" stroke-width="0.9"/>
</g>
<rect x="1335.4" y="832.5" width="221.0" height="271.79999999999995" fill="none" stroke="#222" stroke-width="1"/>
<text x="1450.3" y="1072.5" font-size="11.3" font-weight="bold" fill="#111" textLength="68" lengthAdjust="spacingAndGlyphs">South China</text>
<text x="1450.3" y="1085.5" font-size="11.3" font-weight="bold" fill="#111" textLength="64" lengthAdjust="spacingAndGlyphs">Sea Islands</text>
<text x="1450.3" y="1098.4" font-size="11.3" font-weight="bold" fill="#111" textLength="102" lengthAdjust="spacingAndGlyphs">Scale 1:28 000 000</text>
</g>
<text x="81.5" y="1097" font-size="18.7" fill="#111" textLength="164.5" lengthAdjust="spacingAndGlyphs" font-weight="bold">Scale 1:14 000 000</text>
<rect x="68.4" y="136.2" width="1495.1999999999998" height="973.0" fill="none" stroke="#222" stroke-width="1.2"/>
<path d="M115.9 136.2v-6M115.9 1109.2v6M234.5 136.2v-11.5M234.5 1109.2v11.5M353.2 136.2v-6M353.2 1109.2v6M471.9 136.2v-11.5M471.9 1109.2v11.5M590.5 136.2v-6M590.5 1109.2v6M709.2 136.2v-11.5M709.2 1109.2v11.5M827.9 136.2v-6M827.9 1109.2v6M946.5 136.2v-11.5M946.5 1109.2v11.5M1065.2 136.2v-6M1065.2 1109.2v6M1183.9 136.2v-11.5M1183.9 1109.2v11.5M1302.5 136.2v-6M1302.5 1109.2v6M1421.2 136.2v-11.5M1421.2 1109.2v11.5M1539.8 136.2v-6M1539.8 1109.2v6M68.4 1109.2h-6M1563.6 1109.2h6M68.4 990.5h-11.5M1563.6 990.5h11.5M68.4 871.8h-6M1563.6 871.8h6M68.4 753.2h-11.5M1563.6 753.2h11.5M68.4 634.5h-6M1563.6 634.5h6M68.4 515.8h-11.5M1563.6 515.8h11.5M68.4 397.2h-6M1563.6 397.2h6M68.4 278.5h-11.5M1563.6 278.5h11.5M68.4 159.8h-6M1563.6 159.8h6" stroke="#222" stroke-width="1.1" fill="none"/>
<text x="234.5" y="107.8" font-size="23" fill="#000" text-anchor="middle" textLength="43" lengthAdjust="spacingAndGlyphs">80E</text>
<text x="234.5" y="1153.6" font-size="23" fill="#000" text-anchor="middle" textLength="43" lengthAdjust="spacingAndGlyphs">80E</text>
<text x="471.9" y="107.8" font-size="23" fill="#000" text-anchor="middle" textLength="43" lengthAdjust="spacingAndGlyphs">90E</text>
<text x="471.9" y="1153.6" font-size="23" fill="#000" text-anchor="middle" textLength="43" lengthAdjust="spacingAndGlyphs">90E</text>
<text x="709.2" y="107.8" font-size="23" fill="#000" text-anchor="middle" textLength="55" lengthAdjust="spacingAndGlyphs">100E</text>
<text x="709.2" y="1153.6" font-size="23" fill="#000" text-anchor="middle" textLength="55" lengthAdjust="spacingAndGlyphs">100E</text>
<text x="946.5" y="107.8" font-size="23" fill="#000" text-anchor="middle" textLength="55" lengthAdjust="spacingAndGlyphs">110E</text>
<text x="946.5" y="1153.6" font-size="23" fill="#000" text-anchor="middle" textLength="55" lengthAdjust="spacingAndGlyphs">110E</text>
<text x="1183.9" y="107.8" font-size="23" fill="#000" text-anchor="middle" textLength="55" lengthAdjust="spacingAndGlyphs">120E</text>
<text x="1183.9" y="1153.6" font-size="23" fill="#000" text-anchor="middle" textLength="55" lengthAdjust="spacingAndGlyphs">120E</text>
<text x="1421.2" y="107.8" font-size="23" fill="#000" text-anchor="middle" textLength="55" lengthAdjust="spacingAndGlyphs">130E</text>
<text x="1421.2" y="1153.6" font-size="23" fill="#000" text-anchor="middle" textLength="55" lengthAdjust="spacingAndGlyphs">130E</text>
<text x="-0.5" y="999.3" font-size="23" fill="#000" textLength="43" lengthAdjust="spacingAndGlyphs">20N</text>
<text x="1590.5" y="999.3" font-size="23" fill="#000" textLength="43" lengthAdjust="spacingAndGlyphs">20N</text>
<text x="-0.5" y="762.0" font-size="23" fill="#000" textLength="43" lengthAdjust="spacingAndGlyphs">30N</text>
<text x="1590.5" y="762.0" font-size="23" fill="#000" textLength="43" lengthAdjust="spacingAndGlyphs">30N</text>
<text x="-0.5" y="524.6" font-size="23" fill="#000" textLength="43" lengthAdjust="spacingAndGlyphs">40N</text>
<text x="1590.5" y="524.6" font-size="23" fill="#000" textLength="43" lengthAdjust="spacingAndGlyphs">40N</text>
<text x="-0.5" y="287.3" font-size="23" fill="#000" textLength="43" lengthAdjust="spacingAndGlyphs">50N</text>
<text x="1590.5" y="287.3" font-size="23" fill="#000" textLength="43" lengthAdjust="spacingAndGlyphs">50N</text>
<path d="M389.3 1185.3L287 1197.8L389.3 1210.3Z" fill="#fff" stroke="#222" stroke-width="0.9"/>
<rect x="389.3" y="1185.3" width="103.7" height="25.0" fill="#bde4f7" stroke="#222" stroke-width="0.9"/>
<rect x="493.0" y="1185.3" width="103.7" height="25.0" fill="#a1daf6" stroke="#222" stroke-width="0.9"/>
<rect x="596.7" y="1185.3" width="103.7" height="25.0" fill="#7dbfe9" stroke="#222" stroke-width="0.9"/>
<rect x="700.4" y="1185.3" width="103.7" height="25.0" fill="#5ba6da" stroke="#222" stroke-width="0.9"/>
<rect x="804.1" y="1185.3" width="103.7" height="25.0" fill="#3f84c4" stroke="#222" stroke-width="0.9"/>
<rect x="907.8" y="1185.3" width="103.7" height="25.0" fill="#275eaa" stroke="#222" stroke-width="0.9"/>
<rect x="1011.5" y="1185.3" width="103.7" height="25.0" fill="#20438b" stroke="#222" stroke-width="0.9"/>
<path d="M1115.2 1185.3L1218 1197.8L1115.2 1210.3Z" fill="#1e2d68" stroke="#222" stroke-width="0.9"/>
<text x="389.90000000000003" y="1234.6" font-size="22" fill="#000" text-anchor="middle" textLength="31.5" lengthAdjust="spacingAndGlyphs">0.1</text>
<text x="493.0" y="1234.6" font-size="22" fill="#000" text-anchor="middle">1</text>
<text x="596.7" y="1234.6" font-size="22" fill="#000" text-anchor="middle">2</text>
<text x="700.4" y="1234.6" font-size="22" fill="#000" text-anchor="middle">4</text>
<text x="804.1" y="1234.6" font-size="22" fill="#000" text-anchor="middle">8</text>
<text x="907.8" y="1234.6" font-size="22" fill="#000" text-anchor="middle">12</text>
<text x="1011.5" y="1234.6" font-size="22" fill="#000" text-anchor="middle">16</text>
<text x="1115.2" y="1234.6" font-size="22" fill="#000" text-anchor="middle">20</text>
<text x="1213" y="1218" font-size="28.5" fill="#000" textLength="104" lengthAdjust="spacingAndGlyphs">mm/day</text>
</svg>
</body></html>
